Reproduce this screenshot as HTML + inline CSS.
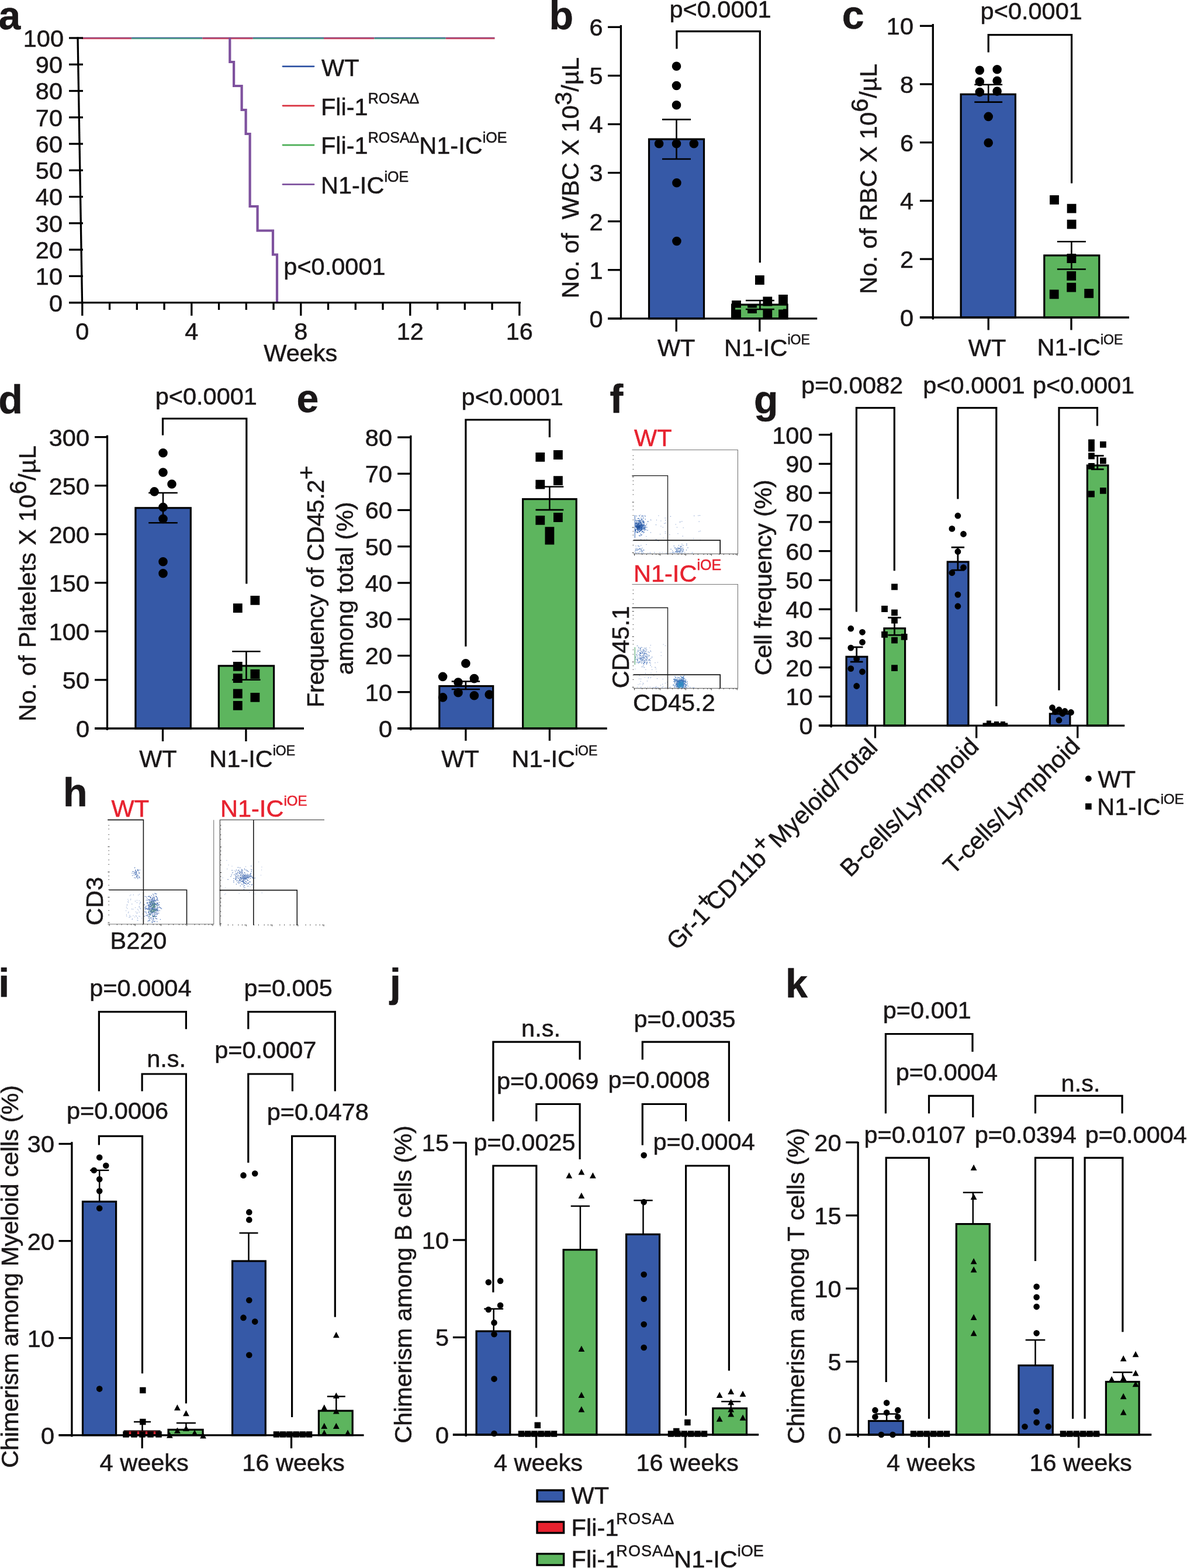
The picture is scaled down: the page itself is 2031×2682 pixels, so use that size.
<!DOCTYPE html>
<html><head><meta charset="utf-8"><title>Figure</title>
<style>html,body{margin:0;padding:0;background:#fff;}svg{display:block;}text{stroke-width:0.55px;}</style>
</head><body>
<svg width="2031" height="2682" viewBox="0 0 2031 2682" font-family='"Liberation Sans", Arial, Helvetica, sans-serif' font-size="41.5" fill="#1a1718"><g stroke="none">
<text x="-2.5" y="50" font-size="68" stroke="#1a1718" font-weight="bold">a</text>
<line x1="140" y1="64.6" x2="225.1" y2="64.6" stroke="#8a3570" stroke-width="1.6"/>
<line x1="140" y1="66.2" x2="225.1" y2="66.2" stroke="#c8344f" stroke-width="1.6"/>
<line x1="225.1" y1="64.6" x2="346.4" y2="64.6" stroke="#2f5c8c" stroke-width="1.6"/>
<line x1="225.1" y1="66.2" x2="346.4" y2="66.2" stroke="#3f9e78" stroke-width="1.6"/>
<line x1="346.4" y1="64.6" x2="432.8" y2="64.6" stroke="#8a3570" stroke-width="1.6"/>
<line x1="346.4" y1="66.2" x2="432.8" y2="66.2" stroke="#c8344f" stroke-width="1.6"/>
<line x1="432.8" y1="64.6" x2="554" y2="64.6" stroke="#2f5c8c" stroke-width="1.6"/>
<line x1="432.8" y1="66.2" x2="554" y2="66.2" stroke="#3f9e78" stroke-width="1.6"/>
<line x1="554" y1="64.6" x2="640.5" y2="64.6" stroke="#8a3570" stroke-width="1.6"/>
<line x1="554" y1="66.2" x2="640.5" y2="66.2" stroke="#c8344f" stroke-width="1.6"/>
<line x1="640.5" y1="64.6" x2="762.7" y2="64.6" stroke="#2f5c8c" stroke-width="1.6"/>
<line x1="640.5" y1="66.2" x2="762.7" y2="66.2" stroke="#3f9e78" stroke-width="1.6"/>
<line x1="762.7" y1="64.6" x2="846.5" y2="64.6" stroke="#8a3570" stroke-width="1.6"/>
<line x1="762.7" y1="66.2" x2="846.5" y2="66.2" stroke="#c8344f" stroke-width="1.6"/>
<path d="M393.3 65V106H400.1V147H413.6V188H420.6V229H427.6V353H440.6V394.5H467V435.5H474V517.6" stroke="#7e519e" stroke-width="4.2" fill="none"/>
<line x1="133" y1="63.5" x2="140.6" y2="519" stroke="#000" stroke-width="3.3"/>
<line x1="118" y1="517.6" x2="142" y2="517.6" stroke="#000" stroke-width="3.3"/>
<text x="107" y="532.5" text-anchor="end" stroke="#1a1718">0</text>
<line x1="118" y1="472.34" x2="142" y2="472.34" stroke="#000" stroke-width="3.3"/>
<text x="107" y="487.24" text-anchor="end" stroke="#1a1718">10</text>
<line x1="118" y1="427.08" x2="142" y2="427.08" stroke="#000" stroke-width="3.3"/>
<text x="107" y="441.98" text-anchor="end" stroke="#1a1718">20</text>
<line x1="118" y1="381.82" x2="142" y2="381.82" stroke="#000" stroke-width="3.3"/>
<text x="107" y="396.72" text-anchor="end" stroke="#1a1718">30</text>
<line x1="118" y1="336.56" x2="142" y2="336.56" stroke="#000" stroke-width="3.3"/>
<text x="107" y="351.46" text-anchor="end" stroke="#1a1718">40</text>
<line x1="118" y1="291.3" x2="142" y2="291.3" stroke="#000" stroke-width="3.3"/>
<text x="107" y="306.2" text-anchor="end" stroke="#1a1718">50</text>
<line x1="118" y1="246.04" x2="142" y2="246.04" stroke="#000" stroke-width="3.3"/>
<text x="107" y="260.94" text-anchor="end" stroke="#1a1718">60</text>
<line x1="118" y1="200.78" x2="142" y2="200.78" stroke="#000" stroke-width="3.3"/>
<text x="107" y="215.68" text-anchor="end" stroke="#1a1718">70</text>
<line x1="118" y1="155.52" x2="142" y2="155.52" stroke="#000" stroke-width="3.3"/>
<text x="107" y="170.42" text-anchor="end" stroke="#1a1718">80</text>
<line x1="118" y1="110.26" x2="142" y2="110.26" stroke="#000" stroke-width="3.3"/>
<text x="107" y="125.16" text-anchor="end" stroke="#1a1718">90</text>
<line x1="118" y1="65" x2="142" y2="65" stroke="#000" stroke-width="3.3"/>
<text x="109" y="79.9" text-anchor="end" stroke="#1a1718">100</text>
<line x1="118" y1="517.6" x2="891" y2="517.6" stroke="#000" stroke-width="3.3"/>
<line x1="140.8" y1="517.6" x2="140.8" y2="540" stroke="#000" stroke-width="3.3"/>
<text x="140.8" y="581" text-anchor="middle" stroke="#1a1718">0</text>
<line x1="187.55" y1="517.6" x2="187.55" y2="530" stroke="#000" stroke-width="3.3"/>
<line x1="234.3" y1="517.6" x2="234.3" y2="530" stroke="#000" stroke-width="3.3"/>
<line x1="281.05" y1="517.6" x2="281.05" y2="530" stroke="#000" stroke-width="3.3"/>
<line x1="327.8" y1="517.6" x2="327.8" y2="540" stroke="#000" stroke-width="3.3"/>
<text x="327.8" y="581" text-anchor="middle" stroke="#1a1718">4</text>
<line x1="374.55" y1="517.6" x2="374.55" y2="530" stroke="#000" stroke-width="3.3"/>
<line x1="421.3" y1="517.6" x2="421.3" y2="530" stroke="#000" stroke-width="3.3"/>
<line x1="468.05" y1="517.6" x2="468.05" y2="530" stroke="#000" stroke-width="3.3"/>
<line x1="514.8" y1="517.6" x2="514.8" y2="540" stroke="#000" stroke-width="3.3"/>
<text x="514.8" y="581" text-anchor="middle" stroke="#1a1718">8</text>
<line x1="561.55" y1="517.6" x2="561.55" y2="530" stroke="#000" stroke-width="3.3"/>
<line x1="608.3" y1="517.6" x2="608.3" y2="530" stroke="#000" stroke-width="3.3"/>
<line x1="655.05" y1="517.6" x2="655.05" y2="530" stroke="#000" stroke-width="3.3"/>
<line x1="701.8" y1="517.6" x2="701.8" y2="540" stroke="#000" stroke-width="3.3"/>
<text x="701.8" y="581" text-anchor="middle" stroke="#1a1718">12</text>
<line x1="748.55" y1="517.6" x2="748.55" y2="530" stroke="#000" stroke-width="3.3"/>
<line x1="795.3" y1="517.6" x2="795.3" y2="530" stroke="#000" stroke-width="3.3"/>
<line x1="842.05" y1="517.6" x2="842.05" y2="530" stroke="#000" stroke-width="3.3"/>
<line x1="888.8" y1="517.6" x2="888.8" y2="540" stroke="#000" stroke-width="3.3"/>
<text x="888.8" y="581" text-anchor="middle" stroke="#1a1718">16</text>
<text x="514.3" y="618" text-anchor="middle" stroke="#1a1718">Weeks</text>
<line x1="484" y1="113.6" x2="537" y2="113.6" stroke="#3356a5" stroke-width="2.8" stroke-linecap="round"/>
<line x1="484" y1="180.8" x2="537" y2="180.8" stroke="#d9303f" stroke-width="2.8" stroke-linecap="round"/>
<line x1="484" y1="248.1" x2="537" y2="248.1" stroke="#4cae56" stroke-width="2.8" stroke-linecap="round"/>
<line x1="484" y1="315.4" x2="537" y2="315.4" stroke="#7e519e" stroke-width="2.8" stroke-linecap="round"/>
<text x="550" y="130" stroke="#1a1718">WT</text>
<text x="549" y="196.5" stroke="#1a1718">Fli-1<tspan dy="-19.5" font-size="25">ROSAΔ</tspan></text>
<text x="549" y="263.2" stroke="#1a1718">Fli-1<tspan dy="-19.5" font-size="25">ROSAΔ</tspan><tspan dy="19.5">N1-IC</tspan><tspan dy="-19.5" font-size="25">iOE</tspan></text>
<text x="549" y="330.5" stroke="#1a1718">N1-IC<tspan dy="-19.5" font-size="25">iOE</tspan></text>
<text x="485.3" y="470.2" stroke="#1a1718">p&lt;0.0001</text>
<text x="939.5" y="50" font-size="68" stroke="#1a1718" font-weight="bold">b</text>
<rect x="1110.5" y="238.1" width="94" height="306.7" fill="#3659a7" stroke="#000" stroke-width="3.2"/>
<rect x="1252.6" y="521.1" width="94.5" height="23.7" fill="#5db55e" stroke="#000" stroke-width="3.2"/>
<line x1="1157.5" y1="204.4" x2="1157.5" y2="272" stroke="#000" stroke-width="2.6"/>
<line x1="1133" y1="204.4" x2="1182" y2="204.4" stroke="#000" stroke-width="2.6"/>
<line x1="1133" y1="272" x2="1182" y2="272" stroke="#000" stroke-width="2.6"/>
<path d="M1149.7 113.3a7.8 7.8 0 1 0 15.6 0a7.8 7.8 0 1 0 -15.6 0zM1149.7 146.5a7.8 7.8 0 1 0 15.6 0a7.8 7.8 0 1 0 -15.6 0zM1149.7 179.8a7.8 7.8 0 1 0 15.6 0a7.8 7.8 0 1 0 -15.6 0zM1119.8 245.8a7.8 7.8 0 1 0 15.6 0a7.8 7.8 0 1 0 -15.6 0zM1149.7 245.8a7.8 7.8 0 1 0 15.6 0a7.8 7.8 0 1 0 -15.6 0zM1179.5 245.8a7.8 7.8 0 1 0 15.6 0a7.8 7.8 0 1 0 -15.6 0zM1150.1 312.8a7.8 7.8 0 1 0 15.6 0a7.8 7.8 0 1 0 -15.6 0zM1150.1 412.5a7.8 7.8 0 1 0 15.6 0a7.8 7.8 0 1 0 -15.6 0z" fill="#000"/>
<path d="M1292 471.1h15.8v15.8h-15.8zM1252.1 514.1h15.8v15.8h-15.8zM1252.1 529.1h15.8v15.8h-15.8zM1279.1 520.1h15.8v15.8h-15.8zM1305.4 507.6h15.8v15.8h-15.8zM1305.4 528.6h15.8v15.8h-15.8zM1332.1 504.1h15.8v15.8h-15.8zM1332.1 528.6h15.8v15.8h-15.8z" fill="#000"/>
<path d="M1258 528H1340" stroke="#5db55e" stroke-width="3" fill="none"/>
<line x1="1300.4" y1="514" x2="1300.4" y2="529" stroke="#000" stroke-width="2.6"/>
<line x1="1275.9" y1="514" x2="1324.9" y2="514" stroke="#000" stroke-width="2.6"/>
<line x1="1275.9" y1="529" x2="1324.9" y2="529" stroke="#000" stroke-width="2.6"/>
<path d="M1157.9 83.6V53.7H1300.3V449.3" stroke="#000" stroke-width="3.2" fill="none"/>
<line x1="1062.4" y1="43" x2="1062.4" y2="546.5" stroke="#000" stroke-width="3.3"/>
<line x1="1040" y1="544.8" x2="1062.4" y2="544.8" stroke="#000" stroke-width="3.3"/>
<text x="1031.5" y="559.7" text-anchor="end" stroke="#1a1718">0</text>
<line x1="1040" y1="461.72" x2="1062.4" y2="461.72" stroke="#000" stroke-width="3.3"/>
<text x="1031.5" y="476.62" text-anchor="end" stroke="#1a1718">1</text>
<line x1="1040" y1="378.64" x2="1062.4" y2="378.64" stroke="#000" stroke-width="3.3"/>
<text x="1031.5" y="393.54" text-anchor="end" stroke="#1a1718">2</text>
<line x1="1040" y1="295.56" x2="1062.4" y2="295.56" stroke="#000" stroke-width="3.3"/>
<text x="1031.5" y="310.46" text-anchor="end" stroke="#1a1718">3</text>
<line x1="1040" y1="212.48" x2="1062.4" y2="212.48" stroke="#000" stroke-width="3.3"/>
<text x="1031.5" y="227.38" text-anchor="end" stroke="#1a1718">4</text>
<line x1="1040" y1="129.4" x2="1062.4" y2="129.4" stroke="#000" stroke-width="3.3"/>
<text x="1031.5" y="144.3" text-anchor="end" stroke="#1a1718">5</text>
<line x1="1040" y1="46.32" x2="1062.4" y2="46.32" stroke="#000" stroke-width="3.3"/>
<text x="1031.5" y="61.22" text-anchor="end" stroke="#1a1718">6</text>
<line x1="1040" y1="544.8" x2="1398.2" y2="544.8" stroke="#000" stroke-width="3.3"/>
<line x1="1157.2" y1="544.8" x2="1157.2" y2="567.2" stroke="#000" stroke-width="3.3"/>
<line x1="1299.8" y1="544.8" x2="1299.8" y2="567.2" stroke="#000" stroke-width="3.3"/>
<text x="1157.2" y="608.5" text-anchor="middle" stroke="#1a1718">WT</text>
<text x="1239" y="608.5" stroke="#1a1718">N1-IC<tspan dy="-19.5" font-size="23">iOE</tspan></text>
<text transform="translate(990.2 304.15) rotate(-90)" text-anchor="middle" stroke="#1a1718" textLength="412.7" lengthAdjust="spacing" xml:space="preserve">No. of  WBC X 10<tspan dy="-12.5" font-size="41.5">3</tspan><tspan dy="12.5">/µL</tspan></text>
<text x="1232.5" y="30" text-anchor="middle" stroke="#1a1718">p&lt;0.0001</text>
<text x="1440.7" y="48.5" font-size="68" stroke="#1a1718" font-weight="bold">c</text>
<rect x="1644.1" y="161.3" width="93.3" height="381.7" fill="#3659a7" stroke="#000" stroke-width="3.2"/>
<rect x="1786.8" y="436.9" width="94" height="106.1" fill="#5db55e" stroke="#000" stroke-width="3.2"/>
<line x1="1691.2" y1="144.8" x2="1691.2" y2="174.6" stroke="#000" stroke-width="2.6"/>
<line x1="1667.3" y1="144.8" x2="1715.1" y2="144.8" stroke="#000" stroke-width="2.6"/>
<line x1="1667.3" y1="174.6" x2="1715.1" y2="174.6" stroke="#000" stroke-width="2.6"/>
<path d="M1668.5 120.3a7.8 7.8 0 1 0 15.6 0a7.8 7.8 0 1 0 -15.6 0zM1698.3 118.8a7.8 7.8 0 1 0 15.6 0a7.8 7.8 0 1 0 -15.6 0zM1668.5 139.7a7.8 7.8 0 1 0 15.6 0a7.8 7.8 0 1 0 -15.6 0zM1698.3 138.2a7.8 7.8 0 1 0 15.6 0a7.8 7.8 0 1 0 -15.6 0zM1668.5 157.6a7.8 7.8 0 1 0 15.6 0a7.8 7.8 0 1 0 -15.6 0zM1698.3 156.1a7.8 7.8 0 1 0 15.6 0a7.8 7.8 0 1 0 -15.6 0zM1683.4 199.4a7.8 7.8 0 1 0 15.6 0a7.8 7.8 0 1 0 -15.6 0zM1683.4 244.2a7.8 7.8 0 1 0 15.6 0a7.8 7.8 0 1 0 -15.6 0z" fill="#000"/>
<path d="M1796.1 333.9h15.8v15.8h-15.8zM1825.7 348.8h15.8v15.8h-15.8zM1825.7 375.7h15.8v15.8h-15.8zM1825.5 434.1h15.8v15.8h-15.8zM1825.3 464h15.8v15.8h-15.8zM1825.3 483.8h15.8v15.8h-15.8zM1795.8 495.5h15.8v15.8h-15.8zM1855.3 494h15.8v15.8h-15.8z" fill="#000"/>
<line x1="1833.4" y1="413.2" x2="1833.4" y2="460.5" stroke="#000" stroke-width="2.6"/>
<line x1="1808.9" y1="413.2" x2="1857.9" y2="413.2" stroke="#000" stroke-width="2.6"/>
<line x1="1808.9" y1="460.5" x2="1857.9" y2="460.5" stroke="#000" stroke-width="2.6"/>
<path d="M1691.2 89.6V59.7H1833.6V313.4" stroke="#000" stroke-width="3.2" fill="none"/>
<line x1="1596.3" y1="41" x2="1596.3" y2="546.5" stroke="#000" stroke-width="3.3"/>
<line x1="1573.9" y1="542.8" x2="1596.3" y2="542.8" stroke="#000" stroke-width="3.3"/>
<text x="1563" y="557.7" text-anchor="end" stroke="#1a1718">0</text>
<line x1="1573.9" y1="443.1" x2="1596.3" y2="443.1" stroke="#000" stroke-width="3.3"/>
<text x="1563" y="458" text-anchor="end" stroke="#1a1718">2</text>
<line x1="1573.9" y1="343.4" x2="1596.3" y2="343.4" stroke="#000" stroke-width="3.3"/>
<text x="1563" y="358.3" text-anchor="end" stroke="#1a1718">4</text>
<line x1="1573.9" y1="243.7" x2="1596.3" y2="243.7" stroke="#000" stroke-width="3.3"/>
<text x="1563" y="258.6" text-anchor="end" stroke="#1a1718">6</text>
<line x1="1573.9" y1="144" x2="1596.3" y2="144" stroke="#000" stroke-width="3.3"/>
<text x="1563" y="158.9" text-anchor="end" stroke="#1a1718">8</text>
<line x1="1573.9" y1="44.3" x2="1596.3" y2="44.3" stroke="#000" stroke-width="3.3"/>
<text x="1563" y="59.2" text-anchor="end" stroke="#1a1718">10</text>
<line x1="1573.9" y1="543" x2="1932" y2="543" stroke="#000" stroke-width="3.3"/>
<line x1="1691.2" y1="543" x2="1691.2" y2="564.5" stroke="#000" stroke-width="3.3"/>
<line x1="1833" y1="543" x2="1833" y2="564.5" stroke="#000" stroke-width="3.3"/>
<text x="1689" y="608.5" text-anchor="middle" stroke="#1a1718">WT</text>
<text x="1774.6" y="608.3" stroke="#1a1718">N1-IC<tspan dy="-19.5" font-size="23">iOE</tspan></text>
<text transform="translate(1500 305.85) rotate(-90)" text-anchor="middle" stroke="#1a1718" textLength="394.1" lengthAdjust="spacing" xml:space="preserve">No. of RBC X 10<tspan dy="-15" font-size="41.5">6</tspan><tspan dy="15">/µL</tspan></text>
<text x="1764.7" y="32.8" text-anchor="middle" stroke="#1a1718">p&lt;0.0001</text>
<text x="-2.7" y="707" font-size="68" stroke="#1a1718" font-weight="bold">d</text>
<rect x="231.9" y="868.8" width="94.4" height="377.2" fill="#3659a7" stroke="#000" stroke-width="3.2"/>
<rect x="374.3" y="1138.9" width="94.3" height="107.1" fill="#5db55e" stroke="#000" stroke-width="3.2"/>
<line x1="279" y1="843" x2="279" y2="894.2" stroke="#000" stroke-width="2.6"/>
<line x1="254.2" y1="843" x2="303.8" y2="843" stroke="#000" stroke-width="2.6"/>
<line x1="254.2" y1="894.2" x2="303.8" y2="894.2" stroke="#000" stroke-width="2.6"/>
<path d="M271.2 774.7a7.8 7.8 0 1 0 15.6 0a7.8 7.8 0 1 0 -15.6 0zM271.2 808a7.8 7.8 0 1 0 15.6 0a7.8 7.8 0 1 0 -15.6 0zM286.2 828a7.8 7.8 0 1 0 15.6 0a7.8 7.8 0 1 0 -15.6 0zM256.3 840.9a7.8 7.8 0 1 0 15.6 0a7.8 7.8 0 1 0 -15.6 0zM271.2 867.6a7.8 7.8 0 1 0 15.6 0a7.8 7.8 0 1 0 -15.6 0zM271.2 887.5a7.8 7.8 0 1 0 15.6 0a7.8 7.8 0 1 0 -15.6 0zM271.2 960.8a7.8 7.8 0 1 0 15.6 0a7.8 7.8 0 1 0 -15.6 0zM271.2 980.8a7.8 7.8 0 1 0 15.6 0a7.8 7.8 0 1 0 -15.6 0z" fill="#000"/>
<path d="M398.9 1032.3h15.8v15.8h-15.8zM428.5 1018.9h15.8v15.8h-15.8zM398.9 1132h15.8v15.8h-15.8zM398.9 1152.2h15.8v15.8h-15.8zM428.5 1145.1h15.8v15.8h-15.8zM398.9 1178.6h15.8v15.8h-15.8zM428.5 1184.9h15.8v15.8h-15.8zM398.9 1199h15.8v15.8h-15.8z" fill="#000"/>
<line x1="421.4" y1="1114.2" x2="421.4" y2="1162.8" stroke="#000" stroke-width="2.6"/>
<line x1="397.2" y1="1114.2" x2="445.6" y2="1114.2" stroke="#000" stroke-width="2.6"/>
<line x1="397.2" y1="1162.8" x2="445.6" y2="1162.8" stroke="#000" stroke-width="2.6"/>
<path d="M278.5 744.4V716H421.8V998.5" stroke="#000" stroke-width="3.2" fill="none"/>
<line x1="183.5" y1="744.4" x2="183.5" y2="1249" stroke="#000" stroke-width="3.3"/>
<line x1="162" y1="1246" x2="183.5" y2="1246" stroke="#000" stroke-width="3.3"/>
<text x="153" y="1260.9" text-anchor="end" stroke="#1a1718">0</text>
<line x1="162" y1="1162.93" x2="183.5" y2="1162.93" stroke="#000" stroke-width="3.3"/>
<text x="153" y="1177.84" text-anchor="end" stroke="#1a1718">50</text>
<line x1="162" y1="1079.87" x2="183.5" y2="1079.87" stroke="#000" stroke-width="3.3"/>
<text x="153" y="1094.77" text-anchor="end" stroke="#1a1718">100</text>
<line x1="162" y1="996.81" x2="183.5" y2="996.81" stroke="#000" stroke-width="3.3"/>
<text x="153" y="1011.71" text-anchor="end" stroke="#1a1718">150</text>
<line x1="162" y1="913.74" x2="183.5" y2="913.74" stroke="#000" stroke-width="3.3"/>
<text x="153" y="928.64" text-anchor="end" stroke="#1a1718">200</text>
<line x1="162" y1="830.67" x2="183.5" y2="830.67" stroke="#000" stroke-width="3.3"/>
<text x="153" y="845.57" text-anchor="end" stroke="#1a1718">250</text>
<line x1="162" y1="747.61" x2="183.5" y2="747.61" stroke="#000" stroke-width="3.3"/>
<text x="153" y="762.51" text-anchor="end" stroke="#1a1718">300</text>
<line x1="162" y1="1246" x2="520" y2="1246" stroke="#000" stroke-width="3.3"/>
<line x1="278.5" y1="1246" x2="278.5" y2="1268" stroke="#000" stroke-width="3.3"/>
<line x1="420.9" y1="1246" x2="420.9" y2="1268" stroke="#000" stroke-width="3.3"/>
<text x="270.4" y="1311.6" text-anchor="middle" stroke="#1a1718">WT</text>
<text x="358.3" y="1311.6" stroke="#1a1718">N1-IC<tspan dy="-19.5" font-size="23">iOE</tspan></text>
<text transform="translate(61.4 998.15) rotate(-90)" text-anchor="middle" stroke="#1a1718" textLength="471.9" lengthAdjust="spacing" xml:space="preserve">No. of Platelets X 10<tspan dy="-16" font-size="41.5">6</tspan><tspan dy="16">/µL</tspan></text>
<text x="352.8" y="692.2" text-anchor="middle" stroke="#1a1718">p&lt;0.0001</text>
<text x="507.5" y="705" font-size="68" stroke="#1a1718" font-weight="bold">e</text>
<rect x="751.8" y="1173.5" width="91.9" height="72.5" fill="#3659a7" stroke="#000" stroke-width="3.2"/>
<rect x="894.6" y="853.7" width="91.6" height="392.3" fill="#5db55e" stroke="#000" stroke-width="3.2"/>
<path d="M789.1 1134.8a7.8 7.8 0 1 0 15.6 0a7.8 7.8 0 1 0 -15.6 0zM749.8 1157.4a7.8 7.8 0 1 0 15.6 0a7.8 7.8 0 1 0 -15.6 0zM803.6 1160.6a7.8 7.8 0 1 0 15.6 0a7.8 7.8 0 1 0 -15.6 0zM776.2 1167.1a7.8 7.8 0 1 0 15.6 0a7.8 7.8 0 1 0 -15.6 0zM749.8 1192.9a7.8 7.8 0 1 0 15.6 0a7.8 7.8 0 1 0 -15.6 0zM776.2 1184.8a7.8 7.8 0 1 0 15.6 0a7.8 7.8 0 1 0 -15.6 0zM803.6 1189.7a7.8 7.8 0 1 0 15.6 0a7.8 7.8 0 1 0 -15.6 0zM829.4 1188a7.8 7.8 0 1 0 15.6 0a7.8 7.8 0 1 0 -15.6 0z" fill="#000"/>
<line x1="796.9" y1="1165.5" x2="796.9" y2="1179" stroke="#000" stroke-width="2.6"/>
<line x1="772.7" y1="1165.5" x2="821.1" y2="1165.5" stroke="#000" stroke-width="2.6"/>
<line x1="772.7" y1="1179" x2="821.1" y2="1179" stroke="#000" stroke-width="2.6"/>
<path d="M916.4 773.9h15.8v15.8h-15.8zM947 770.1h15.8v15.8h-15.8zM916.4 820.7h15.8v15.8h-15.8zM947 814.2h15.8v15.8h-15.8zM916.4 881.9h15.8v15.8h-15.8zM947 877.1h15.8v15.8h-15.8zM932.5 901.3h15.8v15.8h-15.8zM932.5 915.8h15.8v15.8h-15.8z" fill="#000"/>
<line x1="940.4" y1="832.5" x2="940.4" y2="872.1" stroke="#000" stroke-width="2.6"/>
<line x1="916.5" y1="832.5" x2="964.3" y2="832.5" stroke="#000" stroke-width="2.6"/>
<line x1="916.5" y1="872.1" x2="964.3" y2="872.1" stroke="#000" stroke-width="2.6"/>
<path d="M796.9 1105.8V718H940.4V748" stroke="#000" stroke-width="3.2" fill="none"/>
<line x1="702.8" y1="744.8" x2="702.8" y2="1249.3" stroke="#000" stroke-width="3.3"/>
<line x1="680.2" y1="1246" x2="702.8" y2="1246" stroke="#000" stroke-width="3.3"/>
<text x="671" y="1260.9" text-anchor="end" stroke="#1a1718">0</text>
<line x1="680.2" y1="1183.75" x2="702.8" y2="1183.75" stroke="#000" stroke-width="3.3"/>
<text x="671" y="1198.65" text-anchor="end" stroke="#1a1718">10</text>
<line x1="680.2" y1="1121.5" x2="702.8" y2="1121.5" stroke="#000" stroke-width="3.3"/>
<text x="671" y="1136.4" text-anchor="end" stroke="#1a1718">20</text>
<line x1="680.2" y1="1059.25" x2="702.8" y2="1059.25" stroke="#000" stroke-width="3.3"/>
<text x="671" y="1074.15" text-anchor="end" stroke="#1a1718">30</text>
<line x1="680.2" y1="997" x2="702.8" y2="997" stroke="#000" stroke-width="3.3"/>
<text x="671" y="1011.9" text-anchor="end" stroke="#1a1718">40</text>
<line x1="680.2" y1="934.75" x2="702.8" y2="934.75" stroke="#000" stroke-width="3.3"/>
<text x="671" y="949.65" text-anchor="end" stroke="#1a1718">50</text>
<line x1="680.2" y1="872.5" x2="702.8" y2="872.5" stroke="#000" stroke-width="3.3"/>
<text x="671" y="887.4" text-anchor="end" stroke="#1a1718">60</text>
<line x1="680.2" y1="810.25" x2="702.8" y2="810.25" stroke="#000" stroke-width="3.3"/>
<text x="671" y="825.15" text-anchor="end" stroke="#1a1718">70</text>
<line x1="680.2" y1="748" x2="702.8" y2="748" stroke="#000" stroke-width="3.3"/>
<text x="671" y="762.9" text-anchor="end" stroke="#1a1718">80</text>
<line x1="680.2" y1="1246" x2="1038.7" y2="1246" stroke="#000" stroke-width="3.3"/>
<line x1="796.9" y1="1246" x2="796.9" y2="1267" stroke="#000" stroke-width="3.3"/>
<line x1="940.4" y1="1246" x2="940.4" y2="1267" stroke="#000" stroke-width="3.3"/>
<text x="787.5" y="1311.6" text-anchor="middle" stroke="#1a1718">WT</text>
<text x="875.6" y="1311.6" stroke="#1a1718">N1-IC<tspan dy="-19.5" font-size="23">iOE</tspan></text>
<text transform="translate(553.9 1003.3) rotate(-90)" text-anchor="middle" stroke="#1a1718" textLength="414" lengthAdjust="spacing" xml:space="preserve">Frequency of CD45.2<tspan dy="-16" font-size="41.5">+</tspan></text>
<text transform="translate(603.8 1006.35) rotate(-90)" text-anchor="middle" stroke="#1a1718" textLength="295.9" lengthAdjust="spacing" xml:space="preserve">among total (%)</text>
<text x="876.7" y="693.2" text-anchor="middle" stroke="#1a1718">p&lt;0.0001</text>
<text x="1043.5" y="706" font-size="68" stroke="#1a1718" font-weight="bold">f</text>
<text x="1085" y="763.4" fill="#e7222f" stroke="#e7222f">WT</text>
<text x="1084" y="994.6" fill="#e7222f" stroke="#e7222f">N1-IC<tspan dy="-19.5" font-size="25">iOE</tspan></text>
<path d="M1081.4 769.5H1262.4V947.4H1083.7" stroke="#777" stroke-width="1.1" fill="none"/>
<path d="M1081.7 945.4h3M1082.7 932.39h1.4M1082.7 924.78h1.4M1082.7 915.19h1.4M1082.7 908.87h1.4M1081.7 902.17h3M1082.7 889.16h1.4M1082.7 881.55h1.4M1082.7 871.96h1.4M1082.7 865.65h1.4M1081.7 858.95h3M1082.7 845.94h1.4M1082.7 838.33h1.4M1082.7 828.74h1.4M1082.7 822.42h1.4M1081.7 815.73h3M1082.7 802.71h1.4M1082.7 795.1h1.4M1082.7 785.51h1.4M1082.7 779.2h1.4" stroke="#333" stroke-width="1" fill="none"/>
<path d="M1085.5 947.4v3M1098.73 947.4v1.6M1106.47 947.4v1.6M1116.22 947.4v1.6M1122.64 947.4v1.6M1127.44 947.4v1.6M1129.45 947.4v3M1142.68 947.4v1.6M1150.42 947.4v1.6M1160.17 947.4v1.6M1166.59 947.4v1.6M1171.39 947.4v1.6M1173.4 947.4v3M1186.63 947.4v1.6M1194.37 947.4v1.6M1204.12 947.4v1.6M1210.54 947.4v1.6M1215.34 947.4v1.6M1217.35 947.4v3M1230.58 947.4v1.6M1238.32 947.4v1.6M1248.07 947.4v1.6M1254.49 947.4v1.6M1259.29 947.4v1.6M1261.3 947.4v3" stroke="#333" stroke-width="1" fill="none"/>
<path d="M1081.4 999.5H1262.4V1177.4H1083.7" stroke="#777" stroke-width="1.1" fill="none"/>
<path d="M1081.7 1175.4h3M1082.7 1162.39h1.4M1082.7 1154.78h1.4M1082.7 1145.19h1.4M1082.7 1138.87h1.4M1081.7 1132.18h3M1082.7 1119.16h1.4M1082.7 1111.55h1.4M1082.7 1101.96h1.4M1082.7 1095.65h1.4M1081.7 1088.95h3M1082.7 1075.94h1.4M1082.7 1068.33h1.4M1082.7 1058.74h1.4M1082.7 1052.42h1.4M1081.7 1045.72h3M1082.7 1032.71h1.4M1082.7 1025.1h1.4M1082.7 1015.51h1.4M1082.7 1009.2h1.4" stroke="#333" stroke-width="1" fill="none"/>
<path d="M1085.5 1177.4v3M1098.73 1177.4v1.6M1106.47 1177.4v1.6M1116.22 1177.4v1.6M1122.64 1177.4v1.6M1127.44 1177.4v1.6M1129.45 1177.4v3M1142.68 1177.4v1.6M1150.42 1177.4v1.6M1160.17 1177.4v1.6M1166.59 1177.4v1.6M1171.39 1177.4v1.6M1173.4 1177.4v3M1186.63 1177.4v1.6M1194.37 1177.4v1.6M1204.12 1177.4v1.6M1210.54 1177.4v1.6M1215.34 1177.4v1.6M1217.35 1177.4v3M1230.58 1177.4v1.6M1238.32 1177.4v1.6M1248.07 1177.4v1.6M1254.49 1177.4v1.6M1259.29 1177.4v1.6M1261.3 1177.4v3" stroke="#333" stroke-width="1" fill="none"/>
<path d="M1092.72 902.32h1.3v1.3h-1.3zM1092.87 896.95h1.3v1.3h-1.3zM1089.35 897.61h1.3v1.3h-1.3zM1099.56 901.76h1.3v1.3h-1.3zM1099.18 900.62h1.3v1.3h-1.3zM1095.97 900.2h1.3v1.3h-1.3zM1096.53 902.24h1.3v1.3h-1.3zM1089.55 895.96h1.3v1.3h-1.3zM1095.53 898.7h1.3v1.3h-1.3zM1096.6 894.83h1.3v1.3h-1.3zM1095.54 901.56h1.3v1.3h-1.3zM1090.69 910.16h1.3v1.3h-1.3zM1096.78 906.78h1.3v1.3h-1.3zM1090.9 894.19h1.3v1.3h-1.3zM1092.28 898.31h1.3v1.3h-1.3zM1097.16 900.61h1.3v1.3h-1.3zM1091.76 892.78h1.3v1.3h-1.3zM1091.4 906.94h1.3v1.3h-1.3zM1089.96 900.59h1.3v1.3h-1.3zM1096.13 889.32h1.3v1.3h-1.3zM1094.24 907.49h1.3v1.3h-1.3zM1093.47 893.69h1.3v1.3h-1.3zM1096.49 898.6h1.3v1.3h-1.3zM1086.68 904.38h1.3v1.3h-1.3zM1097.35 905.15h1.3v1.3h-1.3zM1101.2 901.35h1.3v1.3h-1.3zM1094.6 890.56h1.3v1.3h-1.3zM1097.08 895.02h1.3v1.3h-1.3zM1091.74 890.78h1.3v1.3h-1.3zM1089.16 895.55h1.3v1.3h-1.3zM1100.44 885.79h1.3v1.3h-1.3zM1086.71 900.56h1.3v1.3h-1.3zM1101.22 902.76h1.3v1.3h-1.3zM1095.79 894.21h1.3v1.3h-1.3zM1088.4 905.35h1.3v1.3h-1.3zM1099.51 900.02h1.3v1.3h-1.3zM1095.23 901.82h1.3v1.3h-1.3zM1101.97 903.02h1.3v1.3h-1.3zM1096.59 902.56h1.3v1.3h-1.3zM1086.16 907.33h1.3v1.3h-1.3zM1098.78 902.44h1.3v1.3h-1.3zM1098.21 887.23h1.3v1.3h-1.3zM1093.08 905.63h1.3v1.3h-1.3zM1087.44 909.47h1.3v1.3h-1.3zM1096.76 898.02h1.3v1.3h-1.3zM1095.62 903.22h1.3v1.3h-1.3zM1094.6 906.45h1.3v1.3h-1.3zM1090.69 896.3h1.3v1.3h-1.3zM1099.21 899.17h1.3v1.3h-1.3zM1089.6 905.15h1.3v1.3h-1.3zM1101.33 896.11h1.3v1.3h-1.3zM1087.1 898.12h1.3v1.3h-1.3zM1093.25 897.06h1.3v1.3h-1.3zM1101.02 892.32h1.3v1.3h-1.3zM1100.3 890.76h1.3v1.3h-1.3zM1090.06 903.1h1.3v1.3h-1.3zM1099.64 904.58h1.3v1.3h-1.3zM1095.73 899.93h1.3v1.3h-1.3zM1094.76 902.74h1.3v1.3h-1.3zM1093.12 900.8h1.3v1.3h-1.3zM1096.86 899.01h1.3v1.3h-1.3zM1097.82 902.68h1.3v1.3h-1.3zM1104.05 901.11h1.3v1.3h-1.3zM1091.86 896.58h1.3v1.3h-1.3zM1093.93 905h1.3v1.3h-1.3zM1092.32 901.51h1.3v1.3h-1.3zM1103.19 882.33h1.3v1.3h-1.3zM1088.38 900.59h1.3v1.3h-1.3zM1095.99 900.55h1.3v1.3h-1.3zM1091.84 903.26h1.3v1.3h-1.3zM1095.41 895.61h1.3v1.3h-1.3zM1106.15 901.31h1.3v1.3h-1.3zM1091.23 898.35h1.3v1.3h-1.3zM1092.87 898.59h1.3v1.3h-1.3zM1099.04 891.4h1.3v1.3h-1.3zM1093.67 905.2h1.3v1.3h-1.3zM1098.28 908.69h1.3v1.3h-1.3zM1092.3 903.05h1.3v1.3h-1.3zM1099.46 881.56h1.3v1.3h-1.3zM1099.44 889.59h1.3v1.3h-1.3zM1097.42 889.3h1.3v1.3h-1.3zM1094.88 906.77h1.3v1.3h-1.3zM1093.25 900.24h1.3v1.3h-1.3zM1097.99 899.92h1.3v1.3h-1.3zM1093.56 908.97h1.3v1.3h-1.3zM1099.24 897.09h1.3v1.3h-1.3zM1107.73 891.55h1.3v1.3h-1.3zM1098.57 897.27h1.3v1.3h-1.3zM1094.66 903.58h1.3v1.3h-1.3zM1095.11 903.15h1.3v1.3h-1.3zM1086.36 889.19h1.3v1.3h-1.3zM1097.07 892.74h1.3v1.3h-1.3zM1088.87 889.44h1.3v1.3h-1.3zM1100.33 903.85h1.3v1.3h-1.3zM1101.37 892.9h1.3v1.3h-1.3zM1094.01 891.59h1.3v1.3h-1.3zM1097.83 909.33h1.3v1.3h-1.3zM1089.55 909.14h1.3v1.3h-1.3zM1098.94 897.84h1.3v1.3h-1.3zM1093.52 895.08h1.3v1.3h-1.3zM1096 901.66h1.3v1.3h-1.3zM1101.49 892.37h1.3v1.3h-1.3zM1099.68 908.67h1.3v1.3h-1.3zM1101.26 897.83h1.3v1.3h-1.3zM1090.28 905.62h1.3v1.3h-1.3zM1094.58 899.81h1.3v1.3h-1.3zM1101.12 897.29h1.3v1.3h-1.3zM1095.59 895.03h1.3v1.3h-1.3zM1093.95 904.41h1.3v1.3h-1.3zM1094.39 907.62h1.3v1.3h-1.3zM1093.69 905.76h1.3v1.3h-1.3zM1101.46 909.46h1.3v1.3h-1.3zM1090.64 904.72h1.3v1.3h-1.3zM1087.84 898.92h1.3v1.3h-1.3zM1093.04 898.81h1.3v1.3h-1.3zM1091.04 900.52h1.3v1.3h-1.3zM1102.96 899.29h1.3v1.3h-1.3zM1096.65 905.5h1.3v1.3h-1.3zM1093.01 890.81h1.3v1.3h-1.3zM1091.22 905.98h1.3v1.3h-1.3zM1099.04 904.15h1.3v1.3h-1.3zM1094.04 904.23h1.3v1.3h-1.3zM1094.83 891.34h1.3v1.3h-1.3zM1086.18 894.85h1.3v1.3h-1.3zM1098.61 895.32h1.3v1.3h-1.3zM1089.49 893.99h1.3v1.3h-1.3zM1086.34 898.24h1.3v1.3h-1.3zM1088.1 901.37h1.3v1.3h-1.3zM1090.79 886.38h1.3v1.3h-1.3zM1097.62 897.21h1.3v1.3h-1.3zM1095.46 896.02h1.3v1.3h-1.3zM1097.9 903.86h1.3v1.3h-1.3zM1097.33 901.12h1.3v1.3h-1.3zM1100.67 903.29h1.3v1.3h-1.3zM1096.26 885.45h1.3v1.3h-1.3zM1098.48 907.51h1.3v1.3h-1.3zM1092.52 895.95h1.3v1.3h-1.3zM1103.7 887.57h1.3v1.3h-1.3zM1096.34 914.75h1.3v1.3h-1.3zM1089.36 903.48h1.3v1.3h-1.3zM1103.43 898.22h1.3v1.3h-1.3zM1096.81 904.87h1.3v1.3h-1.3zM1089.47 898.42h1.3v1.3h-1.3zM1095.46 904.37h1.3v1.3h-1.3zM1093.83 897.73h1.3v1.3h-1.3zM1088.92 896.67h1.3v1.3h-1.3zM1098.46 899.66h1.3v1.3h-1.3zM1089.73 893.53h1.3v1.3h-1.3zM1107.33 906.41h1.3v1.3h-1.3zM1097.19 882.15h1.3v1.3h-1.3zM1097.11 902.12h1.3v1.3h-1.3zM1102.42 901.78h1.3v1.3h-1.3zM1093.66 902.4h1.3v1.3h-1.3zM1095.62 894.44h1.3v1.3h-1.3zM1100.63 910.76h1.3v1.3h-1.3zM1086.99 894.67h1.3v1.3h-1.3zM1095.46 900.19h1.3v1.3h-1.3zM1092.01 892.67h1.3v1.3h-1.3zM1104.6 905.74h1.3v1.3h-1.3zM1088.03 890.26h1.3v1.3h-1.3zM1102.52 905.43h1.3v1.3h-1.3zM1103.1 904.27h1.3v1.3h-1.3zM1089.64 900.69h1.3v1.3h-1.3zM1093.71 902.4h1.3v1.3h-1.3zM1090.36 898.19h1.3v1.3h-1.3zM1096.29 901.45h1.3v1.3h-1.3zM1097.19 900.36h1.3v1.3h-1.3zM1092.38 904.13h1.3v1.3h-1.3zM1094.25 893.63h1.3v1.3h-1.3zM1090.87 899h1.3v1.3h-1.3zM1093.45 900.02h1.3v1.3h-1.3zM1094 900.14h1.3v1.3h-1.3zM1093.33 890.82h1.3v1.3h-1.3zM1096.11 905.85h1.3v1.3h-1.3zM1096.17 897.77h1.3v1.3h-1.3zM1096.23 892.72h1.3v1.3h-1.3zM1089.35 903.81h1.3v1.3h-1.3zM1088.58 881.91h1.3v1.3h-1.3zM1088.8 909.26h1.3v1.3h-1.3zM1092.09 890.1h1.3v1.3h-1.3zM1090.18 902.39h1.3v1.3h-1.3zM1096.48 900.15h1.3v1.3h-1.3zM1101.42 903.59h1.3v1.3h-1.3zM1093.9 902.88h1.3v1.3h-1.3zM1102.27 905.31h1.3v1.3h-1.3zM1099.12 891.96h1.3v1.3h-1.3zM1093.26 903.74h1.3v1.3h-1.3zM1092.52 905.95h1.3v1.3h-1.3zM1096.98 904.9h1.3v1.3h-1.3zM1092.94 915.55h1.3v1.3h-1.3zM1100.2 897.6h1.3v1.3h-1.3zM1094.45 915.87h1.3v1.3h-1.3zM1092.28 904.68h1.3v1.3h-1.3zM1098.9 899.04h1.3v1.3h-1.3zM1088.16 900.22h1.3v1.3h-1.3zM1095.8 906.34h1.3v1.3h-1.3zM1097.91 899.16h1.3v1.3h-1.3zM1098.27 902.51h1.3v1.3h-1.3zM1095.03 899.36h1.3v1.3h-1.3zM1092.78 903.46h1.3v1.3h-1.3zM1088.73 894.91h1.3v1.3h-1.3zM1094.02 889.48h1.3v1.3h-1.3zM1091.82 885.94h1.3v1.3h-1.3zM1090.59 902.69h1.3v1.3h-1.3zM1096.83 898.65h1.3v1.3h-1.3zM1092.84 889.79h1.3v1.3h-1.3zM1103.14 902.35h1.3v1.3h-1.3zM1099.47 893.26h1.3v1.3h-1.3zM1093.07 887.17h1.3v1.3h-1.3zM1097.9 905.08h1.3v1.3h-1.3zM1097.15 887.55h1.3v1.3h-1.3zM1090.85 889.88h1.3v1.3h-1.3zM1094.16 900.62h1.3v1.3h-1.3zM1097.17 903.56h1.3v1.3h-1.3zM1101.51 906.57h1.3v1.3h-1.3zM1087.44 895.71h1.3v1.3h-1.3zM1088.7 892h1.3v1.3h-1.3zM1093.59 899.04h1.3v1.3h-1.3zM1096.45 888.69h1.3v1.3h-1.3zM1087.81 898.85h1.3v1.3h-1.3zM1093 896.98h1.3v1.3h-1.3zM1093.68 894.06h1.3v1.3h-1.3zM1097.51 901.3h1.3v1.3h-1.3zM1093.56 894.63h1.3v1.3h-1.3zM1093.13 881.31h1.3v1.3h-1.3zM1089.09 899.24h1.3v1.3h-1.3zM1086.48 900.3h1.3v1.3h-1.3zM1094.74 890.05h1.3v1.3h-1.3zM1092.75 896.96h1.3v1.3h-1.3zM1096.3 902.98h1.3v1.3h-1.3zM1093.82 893.47h1.3v1.3h-1.3zM1093.28 898.57h1.3v1.3h-1.3zM1097.67 900.91h1.3v1.3h-1.3zM1090.39 890.2h1.3v1.3h-1.3zM1092.13 894.19h1.3v1.3h-1.3zM1088.44 898.25h1.3v1.3h-1.3zM1091.54 899.69h1.3v1.3h-1.3zM1096.62 896.32h1.3v1.3h-1.3zM1105.62 896.91h1.3v1.3h-1.3zM1099.51 899.79h1.3v1.3h-1.3zM1099.58 883.56h1.3v1.3h-1.3zM1090.24 900.61h1.3v1.3h-1.3zM1097.01 914.19h1.3v1.3h-1.3zM1095.61 907.32h1.3v1.3h-1.3zM1097.83 905.16h1.3v1.3h-1.3zM1096.55 897.99h1.3v1.3h-1.3zM1096.55 891.99h1.3v1.3h-1.3zM1099.91 892.39h1.3v1.3h-1.3zM1095.25 912.79h1.3v1.3h-1.3zM1092.88 899.13h1.3v1.3h-1.3zM1099.82 899.17h1.3v1.3h-1.3zM1089.96 900.68h1.3v1.3h-1.3zM1096.91 903.62h1.3v1.3h-1.3zM1090.14 910.39h1.3v1.3h-1.3zM1102.33 899.12h1.3v1.3h-1.3zM1095.34 896.21h1.3v1.3h-1.3zM1101.07 894.42h1.3v1.3h-1.3zM1097.37 895.88h1.3v1.3h-1.3zM1090.53 903.67h1.3v1.3h-1.3zM1100.67 898.93h1.3v1.3h-1.3z" fill="#2f62b0" fill-opacity="0.9"/>
<path d="M1089.97 903.25h1.4v1.4h-1.4zM1091.85 901.24h1.4v1.4h-1.4zM1096.57 904.53h1.4v1.4h-1.4zM1090.44 909.13h1.4v1.4h-1.4zM1092.01 903.14h1.4v1.4h-1.4zM1090.06 899.82h1.4v1.4h-1.4zM1086.75 907.15h1.4v1.4h-1.4zM1096.1 895.14h1.4v1.4h-1.4zM1087.48 893.52h1.4v1.4h-1.4zM1095.53 898.16h1.4v1.4h-1.4zM1091.82 898.75h1.4v1.4h-1.4zM1091.64 895.65h1.4v1.4h-1.4zM1092.07 894.25h1.4v1.4h-1.4zM1091.79 901.23h1.4v1.4h-1.4zM1093.4 899.07h1.4v1.4h-1.4zM1089.29 900.64h1.4v1.4h-1.4zM1090.55 906.26h1.4v1.4h-1.4zM1094.3 899.54h1.4v1.4h-1.4zM1090.59 897.19h1.4v1.4h-1.4zM1089.19 898.59h1.4v1.4h-1.4zM1092.88 902.06h1.4v1.4h-1.4zM1093.71 908.39h1.4v1.4h-1.4zM1089.89 900.05h1.4v1.4h-1.4zM1100.38 892.53h1.4v1.4h-1.4zM1090.44 900.68h1.4v1.4h-1.4zM1092.46 901.63h1.4v1.4h-1.4zM1091.28 901.46h1.4v1.4h-1.4zM1092.16 903.09h1.4v1.4h-1.4zM1086.32 896.46h1.4v1.4h-1.4zM1091.99 895.87h1.4v1.4h-1.4zM1088.87 902.51h1.4v1.4h-1.4zM1090.05 902.54h1.4v1.4h-1.4zM1094.24 901.23h1.4v1.4h-1.4zM1093.52 899.58h1.4v1.4h-1.4zM1087.77 899.88h1.4v1.4h-1.4zM1093.36 897.88h1.4v1.4h-1.4zM1091.7 903h1.4v1.4h-1.4zM1089.37 902.56h1.4v1.4h-1.4zM1097.59 897.78h1.4v1.4h-1.4zM1092.44 899.4h1.4v1.4h-1.4zM1096.62 901.27h1.4v1.4h-1.4zM1094.69 897.24h1.4v1.4h-1.4zM1091.95 899.96h1.4v1.4h-1.4zM1086.67 905.76h1.4v1.4h-1.4zM1094.7 893h1.4v1.4h-1.4zM1094.23 899.48h1.4v1.4h-1.4zM1093.35 901.47h1.4v1.4h-1.4zM1087.5 899.15h1.4v1.4h-1.4zM1096.48 897.7h1.4v1.4h-1.4zM1088.93 894.56h1.4v1.4h-1.4zM1088.34 901.34h1.4v1.4h-1.4zM1097.08 901.72h1.4v1.4h-1.4zM1092.74 908.93h1.4v1.4h-1.4zM1090.44 897.3h1.4v1.4h-1.4zM1093.59 902.19h1.4v1.4h-1.4zM1088.96 895.32h1.4v1.4h-1.4zM1092.87 900.99h1.4v1.4h-1.4zM1088.08 899.19h1.4v1.4h-1.4zM1090.37 901.84h1.4v1.4h-1.4zM1091.65 899.66h1.4v1.4h-1.4z" fill="#1f4f9a"/>
<path d="M1102.28 900.73h1.1v1.1h-1.1zM1137.78 909.01h1.1v1.1h-1.1zM1133.72 901.39h1.1v1.1h-1.1zM1098.68 891.12h1.1v1.1h-1.1zM1137.87 911.71h1.1v1.1h-1.1zM1102.6 880.98h1.1v1.1h-1.1zM1112.91 910.35h1.1v1.1h-1.1zM1108.68 891.58h1.1v1.1h-1.1zM1122.04 921.63h1.1v1.1h-1.1zM1098.25 881.53h1.1v1.1h-1.1zM1104.25 898.93h1.1v1.1h-1.1zM1122.86 888.91h1.1v1.1h-1.1zM1129.04 913.26h1.1v1.1h-1.1zM1113.26 889.23h1.1v1.1h-1.1zM1138.37 894.03h1.1v1.1h-1.1zM1130.28 890.39h1.1v1.1h-1.1zM1097.96 914.22h1.1v1.1h-1.1zM1101.93 922.84h1.1v1.1h-1.1zM1112.77 888.43h1.1v1.1h-1.1zM1098.06 898.77h1.1v1.1h-1.1zM1121.93 922.69h1.1v1.1h-1.1zM1093.9 897.71h1.1v1.1h-1.1zM1097.5 923.84h1.1v1.1h-1.1zM1093.66 882.33h1.1v1.1h-1.1zM1089.25 897.7h1.1v1.1h-1.1zM1134.5 919.76h1.1v1.1h-1.1zM1125.57 924.89h1.1v1.1h-1.1zM1136.31 894.82h1.1v1.1h-1.1zM1096.02 922.11h1.1v1.1h-1.1zM1126.3 881.44h1.1v1.1h-1.1zM1121.88 897.04h1.1v1.1h-1.1zM1106.19 894.93h1.1v1.1h-1.1zM1095.14 880.13h1.1v1.1h-1.1zM1101.11 895.82h1.1v1.1h-1.1zM1137.6 885.57h1.1v1.1h-1.1zM1138.07 889.33h1.1v1.1h-1.1zM1105.26 916.97h1.1v1.1h-1.1zM1130.39 899.46h1.1v1.1h-1.1zM1088.66 901.31h1.1v1.1h-1.1zM1106.13 921.38h1.1v1.1h-1.1z" fill="#4a70b5" fill-opacity="0.7"/>
<path d="M1155.62 896.39h1.1v1.1h-1.1zM1194.33 881.36h1.1v1.1h-1.1zM1167.59 916.53h1.1v1.1h-1.1zM1187.17 881.83h1.1v1.1h-1.1zM1146.92 882.82h1.1v1.1h-1.1zM1195.6 891.57h1.1v1.1h-1.1zM1186.1 920.43h1.1v1.1h-1.1zM1163.65 892.25h1.1v1.1h-1.1zM1197.67 907.76h1.1v1.1h-1.1zM1159.42 912.25h1.1v1.1h-1.1zM1162.41 892.4h1.1v1.1h-1.1zM1145.21 914h1.1v1.1h-1.1zM1195.41 908.53h1.1v1.1h-1.1zM1196.88 881.09h1.1v1.1h-1.1zM1157.86 901.38h1.1v1.1h-1.1zM1197.62 922.93h1.1v1.1h-1.1zM1166.26 891.3h1.1v1.1h-1.1zM1168.65 902.21h1.1v1.1h-1.1z" fill="#4a70b5" fill-opacity="0.7"/>
<path d="M1164.43 938.89h1.2v1.2h-1.2zM1164.19 933.8h1.2v1.2h-1.2zM1165.56 933.82h1.2v1.2h-1.2zM1156.82 937.78h1.2v1.2h-1.2zM1158.59 943.44h1.2v1.2h-1.2zM1161.49 938.41h1.2v1.2h-1.2zM1161.04 941.46h1.2v1.2h-1.2zM1168.44 941.07h1.2v1.2h-1.2zM1174.25 932.06h1.2v1.2h-1.2zM1160.77 941.67h1.2v1.2h-1.2zM1166.79 942.68h1.2v1.2h-1.2zM1159.37 935.78h1.2v1.2h-1.2zM1161.62 944.13h1.2v1.2h-1.2zM1154.46 935.89h1.2v1.2h-1.2zM1160.85 932.25h1.2v1.2h-1.2zM1159.44 938.25h1.2v1.2h-1.2zM1163.7 937.19h1.2v1.2h-1.2zM1155.71 938.42h1.2v1.2h-1.2zM1160.7 937.34h1.2v1.2h-1.2zM1161.07 943h1.2v1.2h-1.2zM1156.3 938.32h1.2v1.2h-1.2zM1156.65 939.87h1.2v1.2h-1.2zM1164.14 934.57h1.2v1.2h-1.2zM1163.78 939.89h1.2v1.2h-1.2zM1150.04 941.17h1.2v1.2h-1.2zM1168.17 932.53h1.2v1.2h-1.2zM1165.84 940.84h1.2v1.2h-1.2zM1163.85 941.77h1.2v1.2h-1.2zM1168.82 939.11h1.2v1.2h-1.2zM1166.24 938.36h1.2v1.2h-1.2zM1165.37 936.74h1.2v1.2h-1.2zM1163.67 939.37h1.2v1.2h-1.2zM1154.13 936.84h1.2v1.2h-1.2zM1162.16 943.76h1.2v1.2h-1.2zM1163.56 942.1h1.2v1.2h-1.2zM1160.75 945.41h1.2v1.2h-1.2zM1158.66 937.8h1.2v1.2h-1.2zM1166.33 940.25h1.2v1.2h-1.2zM1159.33 937.7h1.2v1.2h-1.2zM1159.46 942.49h1.2v1.2h-1.2zM1163.12 935.16h1.2v1.2h-1.2zM1163.56 940.72h1.2v1.2h-1.2zM1155 943.09h1.2v1.2h-1.2zM1159.32 938.66h1.2v1.2h-1.2zM1165.77 945.28h1.2v1.2h-1.2zM1156.87 941.75h1.2v1.2h-1.2zM1158.04 944.78h1.2v1.2h-1.2zM1157.12 943.25h1.2v1.2h-1.2zM1174.31 929.84h1.2v1.2h-1.2zM1158.39 942h1.2v1.2h-1.2zM1160.44 937.33h1.2v1.2h-1.2zM1173.91 940.32h1.2v1.2h-1.2zM1151.13 943.42h1.2v1.2h-1.2zM1150.67 944.6h1.2v1.2h-1.2zM1157.53 940.58h1.2v1.2h-1.2zM1168.57 940.47h1.2v1.2h-1.2zM1152.65 933.22h1.2v1.2h-1.2zM1168.1 942.96h1.2v1.2h-1.2zM1156.11 943.44h1.2v1.2h-1.2zM1163.98 942.59h1.2v1.2h-1.2zM1147.45 938.79h1.2v1.2h-1.2zM1166.4 942.93h1.2v1.2h-1.2zM1166.29 930.17h1.2v1.2h-1.2zM1162.01 941.97h1.2v1.2h-1.2zM1176.31 936.18h1.2v1.2h-1.2zM1159.02 940.14h1.2v1.2h-1.2zM1166.32 938.23h1.2v1.2h-1.2zM1167.88 936.85h1.2v1.2h-1.2zM1162.6 937.89h1.2v1.2h-1.2zM1161.95 937.24h1.2v1.2h-1.2z" fill="#3463ad" fill-opacity="0.85"/>
<path d="M1094.82 938.04h1.1v1.1h-1.1zM1094.21 943.47h1.1v1.1h-1.1zM1087.14 939.61h1.1v1.1h-1.1zM1096.23 941.84h1.1v1.1h-1.1zM1090.99 932.63h1.1v1.1h-1.1zM1100.46 941.15h1.1v1.1h-1.1zM1093.08 939.03h1.1v1.1h-1.1zM1094.58 938.51h1.1v1.1h-1.1zM1086.85 937.41h1.1v1.1h-1.1zM1089.42 937.86h1.1v1.1h-1.1zM1086.05 942.23h1.1v1.1h-1.1zM1086.91 941.23h1.1v1.1h-1.1zM1101.24 940.71h1.1v1.1h-1.1zM1088.62 940.17h1.1v1.1h-1.1zM1093.89 933.93h1.1v1.1h-1.1zM1089.35 940.57h1.1v1.1h-1.1zM1090.18 940.28h1.1v1.1h-1.1zM1097.4 942.68h1.1v1.1h-1.1zM1098.43 942.06h1.1v1.1h-1.1zM1091.27 939.94h1.1v1.1h-1.1zM1091.37 938.9h1.1v1.1h-1.1zM1091.92 933.96h1.1v1.1h-1.1zM1091 939.92h1.1v1.1h-1.1zM1087.16 939.92h1.1v1.1h-1.1zM1096.09 939.42h1.1v1.1h-1.1zM1105.46 930.88h1.1v1.1h-1.1zM1091.76 933.61h1.1v1.1h-1.1zM1096.11 938.94h1.1v1.1h-1.1zM1096.31 932.15h1.1v1.1h-1.1zM1098.11 941.3h1.1v1.1h-1.1zM1093.14 937.94h1.1v1.1h-1.1zM1096.83 938.3h1.1v1.1h-1.1zM1094.34 938.21h1.1v1.1h-1.1zM1094.21 942.64h1.1v1.1h-1.1zM1087.74 939.88h1.1v1.1h-1.1zM1096.7 940.51h1.1v1.1h-1.1zM1087.55 933.28h1.1v1.1h-1.1zM1098.14 945.35h1.1v1.1h-1.1zM1098.53 942.85h1.1v1.1h-1.1zM1089.29 937.5h1.1v1.1h-1.1zM1098.33 936.81h1.1v1.1h-1.1zM1088.88 937.45h1.1v1.1h-1.1zM1094.39 937.38h1.1v1.1h-1.1zM1100.86 939.73h1.1v1.1h-1.1zM1086.48 944.58h1.1v1.1h-1.1z" fill="#3a69b2" fill-opacity="0.8"/>
<path d="M1132.56 944.35h1.2v1.2h-1.2zM1163.59 944.1h1.2v1.2h-1.2zM1171.44 944.51h1.2v1.2h-1.2zM1152.84 945.97h1.2v1.2h-1.2zM1147.34 945.33h1.2v1.2h-1.2zM1119.2 944h1.2v1.2h-1.2zM1090.48 944.3h1.2v1.2h-1.2zM1150.45 944.86h1.2v1.2h-1.2zM1139.81 945.79h1.2v1.2h-1.2zM1100.6 944.45h1.2v1.2h-1.2zM1154.27 944.04h1.2v1.2h-1.2zM1087.27 944.71h1.2v1.2h-1.2zM1097.96 944.71h1.2v1.2h-1.2zM1110.1 945.17h1.2v1.2h-1.2zM1147.68 944.41h1.2v1.2h-1.2zM1151.26 944.95h1.2v1.2h-1.2zM1100.88 945.87h1.2v1.2h-1.2zM1112.09 944.3h1.2v1.2h-1.2zM1096.87 945.28h1.2v1.2h-1.2zM1176.74 945.56h1.2v1.2h-1.2zM1128.4 944.53h1.2v1.2h-1.2zM1088.18 945.29h1.2v1.2h-1.2zM1144.92 944.7h1.2v1.2h-1.2zM1153.5 944.89h1.2v1.2h-1.2zM1183.53 945.47h1.2v1.2h-1.2zM1112.6 945.81h1.2v1.2h-1.2zM1091.53 945.06h1.2v1.2h-1.2zM1128.82 944.48h1.2v1.2h-1.2zM1093.01 945.56h1.2v1.2h-1.2zM1088.27 945.1h1.2v1.2h-1.2zM1183.91 944.28h1.2v1.2h-1.2zM1107.55 945.22h1.2v1.2h-1.2zM1139.22 945.28h1.2v1.2h-1.2zM1170.78 944.35h1.2v1.2h-1.2zM1118.87 944.6h1.2v1.2h-1.2zM1091.99 945.78h1.2v1.2h-1.2zM1167.65 945.43h1.2v1.2h-1.2zM1087.65 945.69h1.2v1.2h-1.2zM1163.75 944.93h1.2v1.2h-1.2zM1163.4 944.9h1.2v1.2h-1.2z" fill="#8fa8d3" fill-opacity="0.8"/>
<line x1="1086.3" y1="881" x2="1086.3" y2="920" stroke="#3b69b5" stroke-width="1"/>
<path d="M1099.46 1125.5h1.2v1.2h-1.2zM1099.2 1124.1h1.2v1.2h-1.2zM1093.46 1132.72h1.2v1.2h-1.2zM1094.75 1108.36h1.2v1.2h-1.2zM1097.78 1116.27h1.2v1.2h-1.2zM1092.44 1119.34h1.2v1.2h-1.2zM1100.89 1113.14h1.2v1.2h-1.2zM1098.11 1132.7h1.2v1.2h-1.2zM1103.44 1120.86h1.2v1.2h-1.2zM1099.83 1121.1h1.2v1.2h-1.2zM1098.69 1127.49h1.2v1.2h-1.2zM1098.86 1115.33h1.2v1.2h-1.2zM1103.23 1117.42h1.2v1.2h-1.2zM1099.96 1138.33h1.2v1.2h-1.2zM1092.2 1113.57h1.2v1.2h-1.2zM1089.83 1104.04h1.2v1.2h-1.2zM1086.79 1124.73h1.2v1.2h-1.2zM1094.85 1107.99h1.2v1.2h-1.2zM1089.36 1126.63h1.2v1.2h-1.2zM1093.96 1119.25h1.2v1.2h-1.2zM1101.15 1132.17h1.2v1.2h-1.2zM1111.62 1129.74h1.2v1.2h-1.2zM1099.93 1123.38h1.2v1.2h-1.2zM1110.71 1132.71h1.2v1.2h-1.2zM1096.98 1125.43h1.2v1.2h-1.2zM1100.87 1122.39h1.2v1.2h-1.2zM1095.75 1112.05h1.2v1.2h-1.2zM1095.53 1110.42h1.2v1.2h-1.2zM1106.95 1126.02h1.2v1.2h-1.2zM1091.16 1132.47h1.2v1.2h-1.2zM1104.8 1107.69h1.2v1.2h-1.2zM1110.97 1128.07h1.2v1.2h-1.2zM1112.42 1112.77h1.2v1.2h-1.2zM1102.45 1125.17h1.2v1.2h-1.2zM1100.31 1123.28h1.2v1.2h-1.2zM1105.85 1110.79h1.2v1.2h-1.2zM1090.93 1111.54h1.2v1.2h-1.2zM1095.38 1117.46h1.2v1.2h-1.2zM1101.39 1124h1.2v1.2h-1.2zM1099.2 1116.93h1.2v1.2h-1.2zM1096.13 1129.14h1.2v1.2h-1.2zM1103.96 1122.76h1.2v1.2h-1.2zM1096.9 1133.65h1.2v1.2h-1.2zM1095.14 1126.86h1.2v1.2h-1.2zM1106.5 1120.01h1.2v1.2h-1.2zM1104.37 1113.63h1.2v1.2h-1.2zM1105.58 1123.5h1.2v1.2h-1.2zM1088.69 1127.02h1.2v1.2h-1.2zM1093.2 1131.61h1.2v1.2h-1.2zM1094.59 1120.76h1.2v1.2h-1.2zM1100.84 1119.51h1.2v1.2h-1.2zM1100.69 1117.85h1.2v1.2h-1.2zM1103.37 1122.04h1.2v1.2h-1.2zM1106.55 1122.24h1.2v1.2h-1.2zM1087.41 1122.72h1.2v1.2h-1.2zM1102.04 1130.03h1.2v1.2h-1.2zM1091.96 1133.6h1.2v1.2h-1.2zM1097.96 1139.96h1.2v1.2h-1.2zM1098.05 1127.1h1.2v1.2h-1.2zM1096.62 1113.63h1.2v1.2h-1.2zM1106.13 1128.8h1.2v1.2h-1.2zM1109 1128.43h1.2v1.2h-1.2zM1095.27 1109.53h1.2v1.2h-1.2zM1094.77 1116.94h1.2v1.2h-1.2zM1093.7 1126.37h1.2v1.2h-1.2zM1101.13 1119.98h1.2v1.2h-1.2zM1100.12 1120.91h1.2v1.2h-1.2zM1100.38 1127.64h1.2v1.2h-1.2zM1105.24 1116.86h1.2v1.2h-1.2zM1089.21 1132.71h1.2v1.2h-1.2zM1099.74 1130.29h1.2v1.2h-1.2zM1088.32 1119.53h1.2v1.2h-1.2zM1099.18 1111.19h1.2v1.2h-1.2zM1095.65 1127.43h1.2v1.2h-1.2zM1106.01 1133.96h1.2v1.2h-1.2zM1093.39 1111.49h1.2v1.2h-1.2zM1102.38 1129.05h1.2v1.2h-1.2zM1100.25 1112.24h1.2v1.2h-1.2zM1104.08 1127.94h1.2v1.2h-1.2zM1102.6 1118.35h1.2v1.2h-1.2zM1100.98 1127.93h1.2v1.2h-1.2zM1095.37 1108.17h1.2v1.2h-1.2zM1101.14 1125.61h1.2v1.2h-1.2zM1099.09 1128.67h1.2v1.2h-1.2zM1095.19 1121.38h1.2v1.2h-1.2zM1097.02 1126.29h1.2v1.2h-1.2zM1109.37 1120.12h1.2v1.2h-1.2zM1112.36 1133.47h1.2v1.2h-1.2zM1104.14 1126.4h1.2v1.2h-1.2zM1110.51 1120.65h1.2v1.2h-1.2zM1098.27 1114.03h1.2v1.2h-1.2zM1102.07 1132.09h1.2v1.2h-1.2zM1102.46 1125.17h1.2v1.2h-1.2zM1097.7 1123.27h1.2v1.2h-1.2zM1089.74 1129.87h1.2v1.2h-1.2zM1096.34 1113.72h1.2v1.2h-1.2zM1094.12 1115.82h1.2v1.2h-1.2zM1104.56 1129.94h1.2v1.2h-1.2zM1090.17 1128.95h1.2v1.2h-1.2zM1104.77 1117.65h1.2v1.2h-1.2zM1089.34 1116.41h1.2v1.2h-1.2zM1094.88 1124.57h1.2v1.2h-1.2zM1096.68 1106.79h1.2v1.2h-1.2zM1100.52 1110.49h1.2v1.2h-1.2zM1104.89 1112.95h1.2v1.2h-1.2zM1094.5 1115.59h1.2v1.2h-1.2zM1095.47 1131.74h1.2v1.2h-1.2zM1104.54 1126.51h1.2v1.2h-1.2zM1101.08 1110.39h1.2v1.2h-1.2zM1095.62 1117.86h1.2v1.2h-1.2zM1092.65 1125.82h1.2v1.2h-1.2zM1094.18 1116.68h1.2v1.2h-1.2zM1092.21 1106.57h1.2v1.2h-1.2zM1102.87 1131.98h1.2v1.2h-1.2zM1100.14 1114.68h1.2v1.2h-1.2zM1106.91 1124.23h1.2v1.2h-1.2zM1105.03 1133.09h1.2v1.2h-1.2zM1106.32 1118.69h1.2v1.2h-1.2zM1105.84 1127.82h1.2v1.2h-1.2zM1089.01 1118.96h1.2v1.2h-1.2zM1089.75 1121.18h1.2v1.2h-1.2zM1102.76 1113.99h1.2v1.2h-1.2zM1101.45 1133.03h1.2v1.2h-1.2zM1090.4 1129.95h1.2v1.2h-1.2zM1112.48 1137.05h1.2v1.2h-1.2zM1097.63 1124.02h1.2v1.2h-1.2zM1098 1129.49h1.2v1.2h-1.2zM1105.75 1122.65h1.2v1.2h-1.2zM1090.17 1127.56h1.2v1.2h-1.2zM1095.95 1126.72h1.2v1.2h-1.2zM1100.71 1134.18h1.2v1.2h-1.2zM1106.39 1118.62h1.2v1.2h-1.2zM1101.27 1135.23h1.2v1.2h-1.2zM1095.51 1125.25h1.2v1.2h-1.2zM1106.74 1131.43h1.2v1.2h-1.2zM1102.37 1112.1h1.2v1.2h-1.2zM1090.8 1123.86h1.2v1.2h-1.2zM1101.52 1141.11h1.2v1.2h-1.2zM1093.4 1130.53h1.2v1.2h-1.2zM1104.01 1109.46h1.2v1.2h-1.2zM1093.68 1123.25h1.2v1.2h-1.2zM1095.79 1120.84h1.2v1.2h-1.2zM1102.06 1115.93h1.2v1.2h-1.2zM1102.03 1117.23h1.2v1.2h-1.2zM1095.46 1126.03h1.2v1.2h-1.2zM1095.27 1124.15h1.2v1.2h-1.2zM1109.4 1122.2h1.2v1.2h-1.2zM1098.05 1127.51h1.2v1.2h-1.2zM1096.62 1130.12h1.2v1.2h-1.2zM1090.66 1126.64h1.2v1.2h-1.2zM1095.67 1116.01h1.2v1.2h-1.2zM1110.5 1115.62h1.2v1.2h-1.2zM1110.42 1126.94h1.2v1.2h-1.2zM1108.44 1114.67h1.2v1.2h-1.2zM1106.79 1132.93h1.2v1.2h-1.2zM1098.24 1121.03h1.2v1.2h-1.2zM1114.96 1123.33h1.2v1.2h-1.2zM1096.25 1117.28h1.2v1.2h-1.2zM1101.9 1124.48h1.2v1.2h-1.2zM1100.15 1134.91h1.2v1.2h-1.2zM1096.87 1125.55h1.2v1.2h-1.2zM1108.48 1114.47h1.2v1.2h-1.2zM1105.75 1135.74h1.2v1.2h-1.2zM1090.19 1113.77h1.2v1.2h-1.2zM1092.25 1108.15h1.2v1.2h-1.2zM1101.94 1108.08h1.2v1.2h-1.2zM1102.24 1132.9h1.2v1.2h-1.2zM1088.5 1119.63h1.2v1.2h-1.2zM1086.53 1127.84h1.2v1.2h-1.2zM1094.21 1120.01h1.2v1.2h-1.2z" fill="#2f62b0" fill-opacity="0.8"/>
<path d="M1098.65 1107.25h1.1v1.1h-1.1zM1112.63 1103.04h1.1v1.1h-1.1zM1111.22 1107.51h1.1v1.1h-1.1zM1112.53 1125.91h1.1v1.1h-1.1zM1115.14 1144.87h1.1v1.1h-1.1zM1086.36 1143.72h1.1v1.1h-1.1zM1111.27 1129.25h1.1v1.1h-1.1zM1121.93 1143.71h1.1v1.1h-1.1zM1106.25 1121.78h1.1v1.1h-1.1zM1137.87 1103.92h1.1v1.1h-1.1zM1120.4 1133.08h1.1v1.1h-1.1zM1087.54 1131.7h1.1v1.1h-1.1zM1122.86 1148.44h1.1v1.1h-1.1zM1103.84 1151.05h1.1v1.1h-1.1zM1113.57 1125.2h1.1v1.1h-1.1zM1134.47 1101.76h1.1v1.1h-1.1zM1124.78 1132.51h1.1v1.1h-1.1zM1104.28 1144.81h1.1v1.1h-1.1zM1105.77 1124.68h1.1v1.1h-1.1zM1114.38 1140.07h1.1v1.1h-1.1zM1097.38 1122.63h1.1v1.1h-1.1zM1108.81 1128.81h1.1v1.1h-1.1zM1130.64 1115.23h1.1v1.1h-1.1zM1130.7 1120.99h1.1v1.1h-1.1zM1113.2 1114.13h1.1v1.1h-1.1zM1113.35 1150.7h1.1v1.1h-1.1zM1121.35 1141.18h1.1v1.1h-1.1zM1103.87 1116.49h1.1v1.1h-1.1zM1102.16 1130.5h1.1v1.1h-1.1zM1120.28 1140.78h1.1v1.1h-1.1z" fill="#4a70b5" fill-opacity="0.6"/>
<path d="M1171.57 1169.99h1.3v1.3h-1.3zM1168.41 1163.87h1.3v1.3h-1.3zM1167.68 1169.3h1.3v1.3h-1.3zM1166.87 1168.13h1.3v1.3h-1.3zM1169.77 1164.75h1.3v1.3h-1.3zM1158.49 1160.61h1.3v1.3h-1.3zM1169.54 1164.31h1.3v1.3h-1.3zM1158.08 1163.3h1.3v1.3h-1.3zM1161.19 1161.64h1.3v1.3h-1.3zM1161.99 1164.86h1.3v1.3h-1.3zM1160.63 1163.2h1.3v1.3h-1.3zM1163.69 1165.7h1.3v1.3h-1.3zM1164.1 1169.25h1.3v1.3h-1.3zM1165.27 1157.05h1.3v1.3h-1.3zM1160.71 1164.02h1.3v1.3h-1.3zM1167.53 1160.11h1.3v1.3h-1.3zM1159.78 1166.53h1.3v1.3h-1.3zM1161.75 1172.96h1.3v1.3h-1.3zM1161.2 1172.82h1.3v1.3h-1.3zM1155.88 1158.94h1.3v1.3h-1.3zM1169.84 1170.18h1.3v1.3h-1.3zM1166.04 1168.62h1.3v1.3h-1.3zM1166.02 1161.92h1.3v1.3h-1.3zM1168.43 1165.34h1.3v1.3h-1.3zM1168.63 1168.44h1.3v1.3h-1.3zM1153.24 1161.56h1.3v1.3h-1.3zM1169.36 1167.32h1.3v1.3h-1.3zM1161.44 1169.21h1.3v1.3h-1.3zM1161.29 1165.28h1.3v1.3h-1.3zM1164.03 1168.72h1.3v1.3h-1.3zM1171.39 1168.23h1.3v1.3h-1.3zM1172.43 1173.31h1.3v1.3h-1.3zM1164.18 1168.69h1.3v1.3h-1.3zM1162.76 1164.34h1.3v1.3h-1.3zM1163.15 1164.8h1.3v1.3h-1.3zM1172.03 1170.67h1.3v1.3h-1.3zM1161.18 1158.42h1.3v1.3h-1.3zM1163.22 1165.92h1.3v1.3h-1.3zM1157.85 1162.32h1.3v1.3h-1.3zM1151.8 1170.84h1.3v1.3h-1.3zM1163.34 1167.26h1.3v1.3h-1.3zM1171.01 1168.67h1.3v1.3h-1.3zM1164.37 1166.14h1.3v1.3h-1.3zM1160.35 1175.5h1.3v1.3h-1.3zM1161.68 1168.15h1.3v1.3h-1.3zM1158.92 1172.84h1.3v1.3h-1.3zM1156.26 1170.82h1.3v1.3h-1.3zM1169.2 1175.06h1.3v1.3h-1.3zM1158.61 1173.45h1.3v1.3h-1.3zM1159.79 1164.21h1.3v1.3h-1.3zM1156.62 1173.78h1.3v1.3h-1.3zM1172.07 1165.03h1.3v1.3h-1.3zM1159.55 1166.31h1.3v1.3h-1.3zM1176.54 1173.02h1.3v1.3h-1.3zM1160.68 1159.03h1.3v1.3h-1.3zM1160 1173.94h1.3v1.3h-1.3zM1173.21 1166.67h1.3v1.3h-1.3zM1159.9 1165.45h1.3v1.3h-1.3zM1153.69 1172.54h1.3v1.3h-1.3zM1157.85 1173.32h1.3v1.3h-1.3zM1154.62 1161.65h1.3v1.3h-1.3zM1165 1164.18h1.3v1.3h-1.3zM1167.56 1168.04h1.3v1.3h-1.3zM1157.39 1171.11h1.3v1.3h-1.3zM1167.88 1158.43h1.3v1.3h-1.3zM1173 1170.49h1.3v1.3h-1.3zM1167.45 1158.7h1.3v1.3h-1.3zM1159.76 1166.25h1.3v1.3h-1.3zM1169.1 1160.7h1.3v1.3h-1.3zM1158.9 1157.85h1.3v1.3h-1.3zM1162.25 1169.73h1.3v1.3h-1.3zM1154.73 1165.04h1.3v1.3h-1.3zM1166.15 1175.93h1.3v1.3h-1.3zM1166.95 1166.48h1.3v1.3h-1.3zM1157.37 1163.32h1.3v1.3h-1.3zM1160.05 1168.74h1.3v1.3h-1.3zM1164.99 1162.64h1.3v1.3h-1.3zM1171.53 1172.75h1.3v1.3h-1.3zM1164.03 1164.39h1.3v1.3h-1.3zM1153.77 1162.89h1.3v1.3h-1.3zM1168.24 1163.99h1.3v1.3h-1.3zM1156.64 1168.98h1.3v1.3h-1.3zM1164.77 1171.03h1.3v1.3h-1.3zM1166.91 1175.05h1.3v1.3h-1.3zM1159.14 1172.89h1.3v1.3h-1.3zM1158.37 1171.47h1.3v1.3h-1.3zM1164.43 1169.22h1.3v1.3h-1.3zM1168.53 1167.91h1.3v1.3h-1.3zM1169.28 1172.38h1.3v1.3h-1.3zM1164.2 1165.17h1.3v1.3h-1.3zM1159.58 1165.36h1.3v1.3h-1.3zM1162.45 1167.88h1.3v1.3h-1.3zM1167.5 1163.7h1.3v1.3h-1.3zM1159.81 1166.4h1.3v1.3h-1.3zM1164.5 1162.82h1.3v1.3h-1.3zM1171.88 1165.18h1.3v1.3h-1.3zM1169.11 1156.32h1.3v1.3h-1.3zM1163.46 1169.39h1.3v1.3h-1.3zM1164.5 1171.01h1.3v1.3h-1.3zM1164.96 1168.81h1.3v1.3h-1.3zM1153.66 1164.43h1.3v1.3h-1.3zM1151.32 1171.14h1.3v1.3h-1.3zM1165.1 1167.02h1.3v1.3h-1.3zM1159.23 1165.09h1.3v1.3h-1.3zM1163.2 1174.44h1.3v1.3h-1.3zM1155.24 1158.32h1.3v1.3h-1.3zM1160.99 1163.63h1.3v1.3h-1.3zM1160.59 1168.94h1.3v1.3h-1.3zM1163.76 1169.38h1.3v1.3h-1.3zM1163.32 1172.65h1.3v1.3h-1.3zM1172.73 1161.78h1.3v1.3h-1.3zM1164.34 1166.68h1.3v1.3h-1.3zM1165.35 1160.34h1.3v1.3h-1.3zM1154.36 1156.42h1.3v1.3h-1.3zM1166.23 1168.96h1.3v1.3h-1.3zM1163.88 1156.17h1.3v1.3h-1.3zM1161.56 1164.22h1.3v1.3h-1.3zM1156.15 1163.42h1.3v1.3h-1.3zM1167.13 1170.72h1.3v1.3h-1.3zM1163.38 1170.57h1.3v1.3h-1.3zM1160.36 1168.36h1.3v1.3h-1.3zM1163.71 1170.77h1.3v1.3h-1.3zM1163.14 1167.28h1.3v1.3h-1.3zM1162.8 1164.78h1.3v1.3h-1.3zM1175.11 1170.57h1.3v1.3h-1.3zM1170.8 1160.22h1.3v1.3h-1.3zM1167.12 1172.19h1.3v1.3h-1.3zM1173.3 1174.58h1.3v1.3h-1.3zM1167.51 1162.11h1.3v1.3h-1.3zM1158.97 1169.34h1.3v1.3h-1.3zM1166.13 1162.89h1.3v1.3h-1.3zM1161.5 1166h1.3v1.3h-1.3zM1163.81 1169.68h1.3v1.3h-1.3zM1162.01 1161.82h1.3v1.3h-1.3zM1169.96 1175.98h1.3v1.3h-1.3zM1162.95 1173.12h1.3v1.3h-1.3zM1165.81 1171.3h1.3v1.3h-1.3zM1166 1164.18h1.3v1.3h-1.3zM1166.48 1173.05h1.3v1.3h-1.3zM1173.84 1171.71h1.3v1.3h-1.3zM1161.74 1165h1.3v1.3h-1.3zM1159.27 1168.58h1.3v1.3h-1.3zM1163.33 1171.35h1.3v1.3h-1.3zM1175.34 1167.86h1.3v1.3h-1.3zM1167.02 1170.38h1.3v1.3h-1.3zM1164.92 1166.96h1.3v1.3h-1.3zM1162.86 1163.88h1.3v1.3h-1.3zM1164.43 1167.88h1.3v1.3h-1.3zM1165.17 1163.72h1.3v1.3h-1.3zM1163.71 1168.24h1.3v1.3h-1.3zM1166.64 1162.68h1.3v1.3h-1.3zM1165.68 1172.92h1.3v1.3h-1.3zM1166.61 1166.16h1.3v1.3h-1.3zM1160.95 1166.82h1.3v1.3h-1.3zM1167.29 1175.76h1.3v1.3h-1.3zM1162.68 1164.79h1.3v1.3h-1.3zM1165.45 1169.02h1.3v1.3h-1.3zM1158.78 1164.31h1.3v1.3h-1.3zM1162.97 1171.36h1.3v1.3h-1.3zM1157.3 1162.91h1.3v1.3h-1.3zM1166.1 1161.88h1.3v1.3h-1.3zM1164.07 1169.76h1.3v1.3h-1.3zM1162.92 1162.91h1.3v1.3h-1.3zM1163.19 1166.34h1.3v1.3h-1.3zM1165.25 1163.81h1.3v1.3h-1.3zM1169.18 1159.62h1.3v1.3h-1.3zM1162.58 1168.04h1.3v1.3h-1.3zM1168.5 1164.96h1.3v1.3h-1.3zM1166.34 1165.17h1.3v1.3h-1.3zM1161.41 1170.21h1.3v1.3h-1.3zM1158.68 1172.87h1.3v1.3h-1.3zM1169.8 1168.18h1.3v1.3h-1.3zM1157.6 1170.01h1.3v1.3h-1.3zM1169.48 1173.45h1.3v1.3h-1.3zM1167.73 1158.85h1.3v1.3h-1.3zM1159.96 1175.11h1.3v1.3h-1.3zM1157.12 1173.66h1.3v1.3h-1.3zM1173.29 1171.81h1.3v1.3h-1.3zM1169.33 1166.34h1.3v1.3h-1.3zM1157.13 1167.49h1.3v1.3h-1.3zM1162.47 1167.76h1.3v1.3h-1.3zM1167.12 1167.28h1.3v1.3h-1.3zM1164.5 1170.12h1.3v1.3h-1.3zM1165.8 1168.42h1.3v1.3h-1.3zM1162.42 1164.87h1.3v1.3h-1.3zM1170.49 1168.75h1.3v1.3h-1.3zM1157.89 1165.19h1.3v1.3h-1.3zM1162.79 1165.77h1.3v1.3h-1.3zM1169.14 1162.19h1.3v1.3h-1.3zM1166.06 1168.72h1.3v1.3h-1.3zM1157.38 1168.24h1.3v1.3h-1.3zM1163.01 1170.51h1.3v1.3h-1.3zM1161.16 1169.52h1.3v1.3h-1.3zM1154.84 1162.58h1.3v1.3h-1.3zM1167.58 1173.21h1.3v1.3h-1.3zM1163.43 1165h1.3v1.3h-1.3zM1169.13 1157.54h1.3v1.3h-1.3zM1159.34 1171.36h1.3v1.3h-1.3zM1166.89 1162.84h1.3v1.3h-1.3zM1153.69 1175.26h1.3v1.3h-1.3zM1164.3 1163.52h1.3v1.3h-1.3zM1163.78 1172.51h1.3v1.3h-1.3zM1167.35 1157.59h1.3v1.3h-1.3zM1167.51 1159.1h1.3v1.3h-1.3zM1169.42 1169.99h1.3v1.3h-1.3zM1175.21 1164.95h1.3v1.3h-1.3zM1163.52 1173.24h1.3v1.3h-1.3zM1160.17 1164.48h1.3v1.3h-1.3zM1161.57 1167.64h1.3v1.3h-1.3zM1157.87 1170.42h1.3v1.3h-1.3zM1166.33 1168.36h1.3v1.3h-1.3zM1172.34 1166.36h1.3v1.3h-1.3zM1170.29 1165.27h1.3v1.3h-1.3zM1167.43 1158.33h1.3v1.3h-1.3zM1164.53 1167.12h1.3v1.3h-1.3zM1160.93 1164.95h1.3v1.3h-1.3zM1161.69 1164.4h1.3v1.3h-1.3zM1152.1 1165.02h1.3v1.3h-1.3zM1160.64 1165.38h1.3v1.3h-1.3zM1158 1167.32h1.3v1.3h-1.3zM1167.58 1166.75h1.3v1.3h-1.3zM1160.94 1174.79h1.3v1.3h-1.3zM1168.58 1172.61h1.3v1.3h-1.3zM1169.51 1166.36h1.3v1.3h-1.3zM1162.83 1173.57h1.3v1.3h-1.3zM1160.62 1167.4h1.3v1.3h-1.3zM1165.46 1169.86h1.3v1.3h-1.3zM1162.06 1172.92h1.3v1.3h-1.3zM1162.57 1171.63h1.3v1.3h-1.3zM1169.07 1171.3h1.3v1.3h-1.3zM1167.31 1162.2h1.3v1.3h-1.3zM1156.68 1164.91h1.3v1.3h-1.3zM1165.97 1175.5h1.3v1.3h-1.3zM1157.14 1169.53h1.3v1.3h-1.3zM1159.06 1164.34h1.3v1.3h-1.3zM1162.06 1171.46h1.3v1.3h-1.3zM1164.61 1173.9h1.3v1.3h-1.3zM1158.37 1172.45h1.3v1.3h-1.3zM1168.34 1168.35h1.3v1.3h-1.3zM1165.98 1165.18h1.3v1.3h-1.3zM1157.83 1165.97h1.3v1.3h-1.3zM1164.55 1169.56h1.3v1.3h-1.3zM1167.37 1164.1h1.3v1.3h-1.3zM1168.27 1169.88h1.3v1.3h-1.3zM1155.62 1171.01h1.3v1.3h-1.3zM1166.37 1170.26h1.3v1.3h-1.3zM1171.74 1165.93h1.3v1.3h-1.3zM1166.16 1171.74h1.3v1.3h-1.3zM1158.82 1174h1.3v1.3h-1.3zM1155.96 1161.5h1.3v1.3h-1.3zM1166.22 1162.56h1.3v1.3h-1.3zM1162.9 1159.78h1.3v1.3h-1.3zM1163.86 1162.33h1.3v1.3h-1.3zM1165.28 1160.34h1.3v1.3h-1.3zM1165.83 1166.67h1.3v1.3h-1.3zM1163.83 1167.66h1.3v1.3h-1.3zM1164.18 1161.39h1.3v1.3h-1.3zM1158.63 1165.73h1.3v1.3h-1.3zM1165.72 1158.07h1.3v1.3h-1.3zM1159.53 1164.95h1.3v1.3h-1.3zM1158 1169.63h1.3v1.3h-1.3zM1162.77 1163.9h1.3v1.3h-1.3zM1158.38 1172.04h1.3v1.3h-1.3zM1160.07 1170.93h1.3v1.3h-1.3zM1165.84 1158.53h1.3v1.3h-1.3zM1157.87 1168.02h1.3v1.3h-1.3zM1165.28 1171.9h1.3v1.3h-1.3zM1167.67 1173.17h1.3v1.3h-1.3zM1161.56 1166.95h1.3v1.3h-1.3zM1167.53 1165.87h1.3v1.3h-1.3zM1168.99 1160.05h1.3v1.3h-1.3zM1166.9 1167.13h1.3v1.3h-1.3zM1153.27 1172.9h1.3v1.3h-1.3zM1165.12 1168.1h1.3v1.3h-1.3zM1157.9 1165.67h1.3v1.3h-1.3zM1171.36 1163.86h1.3v1.3h-1.3zM1157.26 1167.34h1.3v1.3h-1.3zM1161.46 1163.44h1.3v1.3h-1.3zM1159.12 1173.24h1.3v1.3h-1.3zM1160.67 1162.54h1.3v1.3h-1.3zM1167.59 1170.82h1.3v1.3h-1.3zM1158.08 1171.74h1.3v1.3h-1.3zM1153.93 1163.38h1.3v1.3h-1.3zM1169.36 1166.72h1.3v1.3h-1.3zM1156.73 1170.57h1.3v1.3h-1.3zM1168.27 1167.89h1.3v1.3h-1.3zM1154.1 1166.27h1.3v1.3h-1.3zM1165.67 1171.84h1.3v1.3h-1.3zM1173.14 1166.74h1.3v1.3h-1.3zM1160.99 1167.81h1.3v1.3h-1.3zM1169.77 1163.29h1.3v1.3h-1.3zM1170.29 1154.26h1.3v1.3h-1.3zM1167.65 1164.62h1.3v1.3h-1.3zM1165.89 1171.44h1.3v1.3h-1.3zM1157.35 1167.57h1.3v1.3h-1.3zM1164.75 1170.94h1.3v1.3h-1.3zM1158.66 1163.04h1.3v1.3h-1.3zM1162.5 1166.89h1.3v1.3h-1.3zM1155.73 1172.65h1.3v1.3h-1.3zM1160.72 1175.18h1.3v1.3h-1.3zM1167.93 1168.1h1.3v1.3h-1.3zM1167.28 1162.44h1.3v1.3h-1.3zM1161.81 1165.12h1.3v1.3h-1.3zM1156.9 1168.09h1.3v1.3h-1.3zM1162.75 1175.18h1.3v1.3h-1.3zM1158.72 1165.68h1.3v1.3h-1.3zM1165.69 1170.02h1.3v1.3h-1.3zM1163.65 1165.63h1.3v1.3h-1.3zM1166.07 1169.8h1.3v1.3h-1.3zM1153.92 1166.69h1.3v1.3h-1.3zM1156.35 1162.09h1.3v1.3h-1.3zM1164.26 1168.3h1.3v1.3h-1.3zM1164.09 1163.62h1.3v1.3h-1.3zM1162.45 1163.44h1.3v1.3h-1.3zM1165.49 1171.44h1.3v1.3h-1.3zM1172.63 1174.33h1.3v1.3h-1.3zM1159.31 1165.71h1.3v1.3h-1.3zM1158.62 1169.53h1.3v1.3h-1.3zM1173.8 1171.54h1.3v1.3h-1.3zM1152.06 1161.71h1.3v1.3h-1.3zM1156.78 1170.58h1.3v1.3h-1.3zM1163.51 1169.5h1.3v1.3h-1.3zM1172.76 1163.86h1.3v1.3h-1.3zM1165.28 1164.11h1.3v1.3h-1.3zM1152.95 1160.38h1.3v1.3h-1.3zM1163.73 1172.96h1.3v1.3h-1.3zM1162.78 1164.53h1.3v1.3h-1.3zM1154.32 1168.87h1.3v1.3h-1.3zM1163.63 1171.08h1.3v1.3h-1.3zM1161.4 1170.5h1.3v1.3h-1.3z" fill="#2a66b3" fill-opacity="0.9"/>
<path d="M1165.78 1169.56h1.3v1.3h-1.3zM1162.22 1169.44h1.3v1.3h-1.3zM1160.8 1169.38h1.3v1.3h-1.3zM1162.65 1170.63h1.3v1.3h-1.3zM1167.24 1173.92h1.3v1.3h-1.3zM1162.25 1171.81h1.3v1.3h-1.3zM1164.33 1172.28h1.3v1.3h-1.3zM1163.56 1170.8h1.3v1.3h-1.3zM1162.19 1167.65h1.3v1.3h-1.3zM1165.94 1173.9h1.3v1.3h-1.3zM1165.35 1171.31h1.3v1.3h-1.3zM1164.25 1168.65h1.3v1.3h-1.3zM1158.51 1171.99h1.3v1.3h-1.3zM1164.06 1168.34h1.3v1.3h-1.3zM1160.8 1173.83h1.3v1.3h-1.3zM1158.45 1175.29h1.3v1.3h-1.3zM1161.49 1169.93h1.3v1.3h-1.3zM1162.08 1170.47h1.3v1.3h-1.3zM1162.91 1167.75h1.3v1.3h-1.3zM1166.51 1167.65h1.3v1.3h-1.3zM1162.08 1171.66h1.3v1.3h-1.3zM1161.99 1168.7h1.3v1.3h-1.3zM1164.5 1168.9h1.3v1.3h-1.3zM1160.01 1169.69h1.3v1.3h-1.3zM1162.88 1175.11h1.3v1.3h-1.3zM1160.43 1172.91h1.3v1.3h-1.3zM1161.3 1168.93h1.3v1.3h-1.3zM1162.59 1170.81h1.3v1.3h-1.3zM1165.92 1175.25h1.3v1.3h-1.3zM1161.72 1173.99h1.3v1.3h-1.3zM1166.29 1172.44h1.3v1.3h-1.3zM1161.37 1172.7h1.3v1.3h-1.3zM1163.2 1171.06h1.3v1.3h-1.3zM1162.75 1171.99h1.3v1.3h-1.3zM1166.62 1173.39h1.3v1.3h-1.3zM1162.93 1172.99h1.3v1.3h-1.3zM1167.57 1167.19h1.3v1.3h-1.3zM1167.62 1165.99h1.3v1.3h-1.3zM1165.02 1171.78h1.3v1.3h-1.3zM1167.65 1170.84h1.3v1.3h-1.3zM1162.15 1167.61h1.3v1.3h-1.3zM1160 1172.3h1.3v1.3h-1.3zM1162.84 1167.85h1.3v1.3h-1.3zM1164.99 1167.71h1.3v1.3h-1.3zM1162.28 1168.62h1.3v1.3h-1.3zM1168.13 1174.39h1.3v1.3h-1.3zM1163.06 1165.29h1.3v1.3h-1.3zM1164.27 1170.22h1.3v1.3h-1.3zM1164.48 1171.7h1.3v1.3h-1.3zM1162.6 1172.78h1.3v1.3h-1.3zM1165.84 1170.63h1.3v1.3h-1.3zM1162.36 1168.56h1.3v1.3h-1.3zM1165.44 1166.7h1.3v1.3h-1.3zM1163.05 1167.75h1.3v1.3h-1.3zM1159.6 1171.81h1.3v1.3h-1.3zM1163.43 1170.11h1.3v1.3h-1.3zM1165.95 1165.52h1.3v1.3h-1.3zM1163.31 1170.87h1.3v1.3h-1.3zM1165.83 1166.75h1.3v1.3h-1.3zM1165.5 1170.66h1.3v1.3h-1.3zM1167.3 1173.42h1.3v1.3h-1.3zM1163.5 1168.73h1.3v1.3h-1.3zM1162.55 1167.18h1.3v1.3h-1.3zM1163.42 1164.36h1.3v1.3h-1.3zM1163.26 1171.28h1.3v1.3h-1.3zM1166.28 1168.96h1.3v1.3h-1.3zM1167.39 1168.05h1.3v1.3h-1.3zM1163.12 1164.37h1.3v1.3h-1.3zM1161.37 1167.63h1.3v1.3h-1.3zM1167.58 1171.55h1.3v1.3h-1.3zM1160.48 1171.56h1.3v1.3h-1.3zM1164.82 1169.32h1.3v1.3h-1.3zM1163.56 1169.11h1.3v1.3h-1.3zM1162.02 1164.81h1.3v1.3h-1.3zM1163.25 1173.76h1.3v1.3h-1.3zM1167.42 1169.18h1.3v1.3h-1.3zM1161.46 1169.38h1.3v1.3h-1.3zM1165.95 1171.03h1.3v1.3h-1.3zM1161.9 1171.06h1.3v1.3h-1.3zM1162.94 1171.51h1.3v1.3h-1.3zM1162.39 1165.69h1.3v1.3h-1.3zM1163.66 1172.23h1.3v1.3h-1.3zM1160.48 1169.69h1.3v1.3h-1.3zM1165.9 1168.9h1.3v1.3h-1.3zM1161.72 1175.94h1.3v1.3h-1.3zM1165.76 1173h1.3v1.3h-1.3zM1160.92 1174.77h1.3v1.3h-1.3zM1158.98 1168.49h1.3v1.3h-1.3zM1165.52 1173.89h1.3v1.3h-1.3zM1160.97 1168.06h1.3v1.3h-1.3z" fill="#2d8fc4" fill-opacity="0.9"/>
<path d="M1129.84 1171.62h1.1v1.1h-1.1zM1095.95 1160.79h1.1v1.1h-1.1zM1108.75 1159.13h1.1v1.1h-1.1zM1093.14 1160.62h1.1v1.1h-1.1zM1100.25 1169.03h1.1v1.1h-1.1zM1113.3 1157.26h1.1v1.1h-1.1zM1106.87 1164.37h1.1v1.1h-1.1zM1108.87 1158.36h1.1v1.1h-1.1zM1093.73 1155.22h1.1v1.1h-1.1zM1141.59 1170.01h1.1v1.1h-1.1zM1094.37 1169.34h1.1v1.1h-1.1zM1140.97 1166.27h1.1v1.1h-1.1zM1095.66 1164.78h1.1v1.1h-1.1zM1112.58 1158.8h1.1v1.1h-1.1zM1118.24 1155.17h1.1v1.1h-1.1zM1137.82 1167.89h1.1v1.1h-1.1zM1122.64 1173.7h1.1v1.1h-1.1zM1123.94 1160.03h1.1v1.1h-1.1zM1102.79 1157.77h1.1v1.1h-1.1zM1091.44 1170.49h1.1v1.1h-1.1zM1133.66 1160.93h1.1v1.1h-1.1zM1099.66 1167.76h1.1v1.1h-1.1zM1133.98 1173.53h1.1v1.1h-1.1zM1098.76 1170.69h1.1v1.1h-1.1zM1133.18 1169.85h1.1v1.1h-1.1z" fill="#4a70b5" fill-opacity="0.6"/>
<path d="M1120.65 1174.78h1.2v1.2h-1.2zM1172.01 1174.98h1.2v1.2h-1.2zM1124.96 1175.33h1.2v1.2h-1.2zM1125.04 1175.75h1.2v1.2h-1.2zM1111.66 1174.56h1.2v1.2h-1.2zM1145.39 1175.44h1.2v1.2h-1.2zM1171.43 1175.56h1.2v1.2h-1.2zM1180.24 1175.92h1.2v1.2h-1.2zM1137.92 1175.25h1.2v1.2h-1.2zM1103.22 1174.95h1.2v1.2h-1.2zM1146.85 1174.62h1.2v1.2h-1.2zM1157.86 1174.75h1.2v1.2h-1.2zM1132.65 1175.95h1.2v1.2h-1.2zM1096.24 1174.56h1.2v1.2h-1.2zM1132.27 1174.79h1.2v1.2h-1.2zM1161.46 1174.5h1.2v1.2h-1.2zM1173.6 1175.78h1.2v1.2h-1.2zM1168.05 1175.14h1.2v1.2h-1.2zM1116.18 1175.49h1.2v1.2h-1.2zM1140.01 1175.13h1.2v1.2h-1.2zM1121.88 1175.16h1.2v1.2h-1.2zM1155.61 1175.74h1.2v1.2h-1.2zM1180.11 1174.75h1.2v1.2h-1.2zM1117.46 1175.16h1.2v1.2h-1.2zM1145.03 1175.02h1.2v1.2h-1.2zM1107.13 1174.63h1.2v1.2h-1.2zM1120.34 1175.19h1.2v1.2h-1.2zM1187.04 1175.86h1.2v1.2h-1.2zM1176.14 1175.96h1.2v1.2h-1.2zM1186.07 1175.43h1.2v1.2h-1.2zM1170.55 1174.59h1.2v1.2h-1.2zM1156.67 1175.41h1.2v1.2h-1.2zM1117.59 1175.36h1.2v1.2h-1.2zM1185.14 1175.22h1.2v1.2h-1.2zM1153.68 1174.95h1.2v1.2h-1.2zM1122.37 1175.83h1.2v1.2h-1.2zM1089.87 1174.78h1.2v1.2h-1.2zM1156.9 1175.17h1.2v1.2h-1.2zM1095.78 1175.49h1.2v1.2h-1.2zM1125.32 1175.37h1.2v1.2h-1.2z" fill="#8fa8d3" fill-opacity="0.8"/>
<line x1="1086.3" y1="1107" x2="1086.3" y2="1137" stroke="#3a9a5a" stroke-width="1"/>
<path d="M1081.4 813.6H1142.5V947.4" stroke="#1a1a1a" stroke-width="1.3" fill="none"/>
<path d="M1083.7 924.1H1232.2V947.4" stroke="#1a1a1a" stroke-width="1.8" fill="none"/>
<path d="M1081.4 1039.5H1142.5V1177.4" stroke="#1a1a1a" stroke-width="1.3" fill="none"/>
<path d="M1083.7 1154.1H1232.2V1177.4" stroke="#1a1a1a" stroke-width="1.8" fill="none"/>
<text transform="translate(1076 1107) rotate(-90)" text-anchor="middle" stroke="#1a1718">CD45.1</text>
<text x="1083" y="1216.1" stroke="#1a1718">CD45.2</text>
<text x="1290" y="707" font-size="68" stroke="#1a1718" font-weight="bold">g</text>
<rect x="1448.1" y="1123.3" width="35.7" height="117.8" fill="#3659a7" stroke="#000" stroke-width="3.2"/>
<rect x="1512.9" y="1074.8" width="35.7" height="166.3" fill="#5db55e" stroke="#000" stroke-width="3.2"/>
<rect x="1621.3" y="961" width="35.7" height="280.1" fill="#3659a7" stroke="#000" stroke-width="3.2"/>
<rect x="1683.1" y="1238.1" width="39.6" height="3" fill="#5db55e" stroke="#000" stroke-width="3.2"/>
<rect x="1796.4" y="1220.9" width="34.5" height="20.2" fill="#3659a7" stroke="#000" stroke-width="3.2"/>
<rect x="1860.4" y="796.1" width="35.5" height="445" fill="#5db55e" stroke="#000" stroke-width="3.2"/>
<path d="M1450.4 1075.2a5.4 5.4 0 1 0 10.8 0a5.4 5.4 0 1 0 -10.8 0zM1470.1 1081.3a5.4 5.4 0 1 0 10.8 0a5.4 5.4 0 1 0 -10.8 0zM1470.1 1098.5a5.4 5.4 0 1 0 10.8 0a5.4 5.4 0 1 0 -10.8 0zM1450.4 1108.1a5.4 5.4 0 1 0 10.8 0a5.4 5.4 0 1 0 -10.8 0zM1460.3 1126.9a5.4 5.4 0 1 0 10.8 0a5.4 5.4 0 1 0 -10.8 0zM1450.4 1143.6a5.4 5.4 0 1 0 10.8 0a5.4 5.4 0 1 0 -10.8 0zM1470.1 1149a5.4 5.4 0 1 0 10.8 0a5.4 5.4 0 1 0 -10.8 0zM1460.3 1173.5a5.4 5.4 0 1 0 10.8 0a5.4 5.4 0 1 0 -10.8 0z" fill="#000"/>
<line x1="1465.7" y1="1106.9" x2="1465.7" y2="1132" stroke="#000" stroke-width="2.8"/>
<line x1="1454.9" y1="1106.9" x2="1476.5" y2="1106.9" stroke="#000" stroke-width="2.8"/>
<line x1="1454.9" y1="1132" x2="1476.5" y2="1132" stroke="#000" stroke-width="2.8"/>
<path d="M1525.1 998.5h10.8v10.8h-10.8zM1508.1 1036.1h10.8v10.8h-10.8zM1525.1 1042.4h10.8v10.8h-10.8zM1525.1 1055.8h10.8v10.8h-10.8zM1508.1 1080h10.8v10.8h-10.8zM1541.8 1083.9h10.8v10.8h-10.8zM1525.1 1089.8h10.8v10.8h-10.8zM1525.1 1137.3h10.8v10.8h-10.8z" fill="#000"/>
<line x1="1530.5" y1="1056.4" x2="1530.5" y2="1086.3" stroke="#000" stroke-width="2.8"/>
<line x1="1519.3" y1="1056.4" x2="1541.7" y2="1056.4" stroke="#000" stroke-width="2.8"/>
<line x1="1519.3" y1="1086.3" x2="1541.7" y2="1086.3" stroke="#000" stroke-width="2.8"/>
<path d="M1633.5 882.2a5.4 5.4 0 1 0 10.8 0a5.4 5.4 0 1 0 -10.8 0zM1623.5 904.4a5.4 5.4 0 1 0 10.8 0a5.4 5.4 0 1 0 -10.8 0zM1643.1 913.5a5.4 5.4 0 1 0 10.8 0a5.4 5.4 0 1 0 -10.8 0zM1633.5 943.5a5.4 5.4 0 1 0 10.8 0a5.4 5.4 0 1 0 -10.8 0zM1623.5 979.8a5.4 5.4 0 1 0 10.8 0a5.4 5.4 0 1 0 -10.8 0zM1643.1 970.7a5.4 5.4 0 1 0 10.8 0a5.4 5.4 0 1 0 -10.8 0zM1633.5 1017.1a5.4 5.4 0 1 0 10.8 0a5.4 5.4 0 1 0 -10.8 0zM1633.5 1037a5.4 5.4 0 1 0 10.8 0a5.4 5.4 0 1 0 -10.8 0z" fill="#000"/>
<line x1="1638.9" y1="936.2" x2="1638.9" y2="975.2" stroke="#000" stroke-width="2.8"/>
<line x1="1627.7" y1="936.2" x2="1650.1" y2="936.2" stroke="#000" stroke-width="2.8"/>
<line x1="1627.7" y1="975.2" x2="1650.1" y2="975.2" stroke="#000" stroke-width="2.8"/>
<path d="M1688 1232.5h8v8h-8zM1701 1234h8v8h-8zM1712 1234h8v8h-8z" fill="#000"/>
<path d="M1795.1 1210.5a5.4 5.4 0 1 0 10.8 0a5.4 5.4 0 1 0 -10.8 0zM1806.6 1214a5.4 5.4 0 1 0 10.8 0a5.4 5.4 0 1 0 -10.8 0zM1816.6 1216.5a5.4 5.4 0 1 0 10.8 0a5.4 5.4 0 1 0 -10.8 0zM1827.1 1218.5a5.4 5.4 0 1 0 10.8 0a5.4 5.4 0 1 0 -10.8 0zM1800.1 1217.5a5.4 5.4 0 1 0 10.8 0a5.4 5.4 0 1 0 -10.8 0zM1812.6 1220.5a5.4 5.4 0 1 0 10.8 0a5.4 5.4 0 1 0 -10.8 0zM1806.6 1232a5.4 5.4 0 1 0 10.8 0a5.4 5.4 0 1 0 -10.8 0z" fill="#000"/>
<line x1="1801" y1="1217.5" x2="1822" y2="1217.5" stroke="#000" stroke-width="2.8"/>
<path d="M1862.1 751.5h10.8v10.8h-10.8zM1882 754.9h10.8v10.8h-10.8zM1862.1 761.6h10.8v10.8h-10.8zM1862.1 774.6h10.8v10.8h-10.8zM1882 782.8h10.8v10.8h-10.8zM1862.1 791.9h10.8v10.8h-10.8zM1862.1 839.6h10.8v10.8h-10.8zM1882 833.9h10.8v10.8h-10.8z" fill="#000"/>
<line x1="1877.8" y1="779.5" x2="1877.8" y2="802.7" stroke="#000" stroke-width="2.8"/>
<line x1="1867" y1="779.5" x2="1888.6" y2="779.5" stroke="#000" stroke-width="2.8"/>
<line x1="1867" y1="802.7" x2="1888.6" y2="802.7" stroke="#000" stroke-width="2.8"/>
<path d="M1465.4 1046.6V697.7H1530.3V976.2" stroke="#000" stroke-width="3.2" fill="none"/>
<path d="M1638.9 853.5V697.7H1704.8V1208" stroke="#000" stroke-width="3.2" fill="none"/>
<path d="M1812 1180.7V697.7H1877.5V728.6" stroke="#000" stroke-width="3.2" fill="none"/>
<line x1="1422.2" y1="740" x2="1422.2" y2="1244.3" stroke="#000" stroke-width="3.3"/>
<line x1="1400.9" y1="1241.1" x2="1422.2" y2="1241.1" stroke="#000" stroke-width="3.3"/>
<text x="1390.5" y="1256" text-anchor="end" stroke="#1a1718">0</text>
<line x1="1400.9" y1="1191.35" x2="1422.2" y2="1191.35" stroke="#000" stroke-width="3.3"/>
<text x="1390.5" y="1206.25" text-anchor="end" stroke="#1a1718">10</text>
<line x1="1400.9" y1="1141.6" x2="1422.2" y2="1141.6" stroke="#000" stroke-width="3.3"/>
<text x="1390.5" y="1156.5" text-anchor="end" stroke="#1a1718">20</text>
<line x1="1400.9" y1="1091.85" x2="1422.2" y2="1091.85" stroke="#000" stroke-width="3.3"/>
<text x="1390.5" y="1106.75" text-anchor="end" stroke="#1a1718">30</text>
<line x1="1400.9" y1="1042.1" x2="1422.2" y2="1042.1" stroke="#000" stroke-width="3.3"/>
<text x="1390.5" y="1057" text-anchor="end" stroke="#1a1718">40</text>
<line x1="1400.9" y1="992.35" x2="1422.2" y2="992.35" stroke="#000" stroke-width="3.3"/>
<text x="1390.5" y="1007.25" text-anchor="end" stroke="#1a1718">50</text>
<line x1="1400.9" y1="942.6" x2="1422.2" y2="942.6" stroke="#000" stroke-width="3.3"/>
<text x="1390.5" y="957.5" text-anchor="end" stroke="#1a1718">60</text>
<line x1="1400.9" y1="892.85" x2="1422.2" y2="892.85" stroke="#000" stroke-width="3.3"/>
<text x="1390.5" y="907.75" text-anchor="end" stroke="#1a1718">70</text>
<line x1="1400.9" y1="843.1" x2="1422.2" y2="843.1" stroke="#000" stroke-width="3.3"/>
<text x="1390.5" y="858" text-anchor="end" stroke="#1a1718">80</text>
<line x1="1400.9" y1="793.35" x2="1422.2" y2="793.35" stroke="#000" stroke-width="3.3"/>
<text x="1390.5" y="808.25" text-anchor="end" stroke="#1a1718">90</text>
<line x1="1400.9" y1="743.6" x2="1422.2" y2="743.6" stroke="#000" stroke-width="3.3"/>
<text x="1390.5" y="758.5" text-anchor="end" stroke="#1a1718">100</text>
<line x1="1400.9" y1="1241.1" x2="1924.3" y2="1241.1" stroke="#000" stroke-width="3.3"/>
<line x1="1497.5" y1="1241.1" x2="1497.5" y2="1262.5" stroke="#000" stroke-width="3.3"/>
<line x1="1670.7" y1="1241.1" x2="1670.7" y2="1262.5" stroke="#000" stroke-width="3.3"/>
<line x1="1843.8" y1="1241.1" x2="1843.8" y2="1262.5" stroke="#000" stroke-width="3.3"/>
<text transform="translate(1319.5 987.8) rotate(-90)" text-anchor="middle" stroke="#1a1718" textLength="335" lengthAdjust="spacing" xml:space="preserve">Cell frequency (%)</text>
<text x="1458" y="672.7" text-anchor="middle" stroke="#1a1718">p=0.0082</text>
<text x="1666.4" y="672.7" text-anchor="middle" stroke="#1a1718">p&lt;0.0001</text>
<text x="1854" y="672.7" text-anchor="middle" stroke="#1a1718">p&lt;0.0001</text>
<text stroke="#1a1718" transform="translate(1503.8 1281) rotate(-45)" text-anchor="end" xml:space="preserve">Gr-1<tspan dy="-16" dx="-1">+</tspan><tspan dy="16" dx="-12">CD11b</tspan><tspan dy="-16" dx="-1">+</tspan><tspan dy="16" dx="-8"> Myeloid/Total</tspan></text>
<text transform="translate(1677 1279.5) rotate(-45)" text-anchor="end" stroke="#1a1718">B-cells/Lymphoid</text>
<text transform="translate(1850 1278.5) rotate(-45)" text-anchor="end" stroke="#1a1718">T-cells/Lymphoid</text>
<path d="M1857 1331.8a5.4 5.4 0 1 0 10.8 0a5.4 5.4 0 1 0 -10.8 0z" fill="#000"/>
<path d="M1857.1 1374.1h10.6v10.6h-10.6z" fill="#000"/>
<text x="1878.5" y="1346.5" stroke="#1a1718">WT</text>
<text x="1877.3" y="1394" stroke="#1a1718">N1-IC<tspan dy="-19.5" font-size="24">iOE</tspan></text>
<text x="108" y="1378.7" font-size="68" stroke="#1a1718" font-weight="bold">h</text>
<text x="190.5" y="1397.4" fill="#e7222f" stroke="#e7222f">WT</text>
<text x="377" y="1397.4" fill="#e7222f" stroke="#e7222f">N1-IC<tspan dy="-19.5" font-size="24">iOE</tspan></text>
<path d="M365.7 1402.4V1580.7H184.2" stroke="#777" stroke-width="1.1" fill="none"/>
<path d="M184.5 1578h3M185.5 1564.98h1.4M185.5 1557.36h1.4M185.5 1547.77h1.4M185.5 1541.45h1.4M184.5 1534.75h3M185.5 1521.73h1.4M185.5 1514.11h1.4M185.5 1504.52h1.4M185.5 1498.2h1.4M184.5 1491.5h3M185.5 1478.48h1.4M185.5 1470.86h1.4M185.5 1461.27h1.4M185.5 1454.95h1.4M184.5 1448.25h3M185.5 1435.23h1.4M185.5 1427.61h1.4M185.5 1418.02h1.4M185.5 1411.7h1.4" stroke="#333" stroke-width="1" fill="none"/>
<path d="M187 1580.7v3M200.32 1580.7v1.6M208.11 1580.7v1.6M217.93 1580.7v1.6M224.4 1580.7v1.6M229.23 1580.7v1.6M231.25 1580.7v3M244.57 1580.7v1.6M252.36 1580.7v1.6M262.18 1580.7v1.6M268.65 1580.7v1.6M273.48 1580.7v1.6M275.5 1580.7v3M288.82 1580.7v1.6M296.61 1580.7v1.6M306.43 1580.7v1.6M312.9 1580.7v1.6M317.73 1580.7v1.6M319.75 1580.7v3M333.07 1580.7v1.6M340.86 1580.7v1.6M350.68 1580.7v1.6M357.15 1580.7v1.6M361.98 1580.7v1.6M364 1580.7v3" stroke="#333" stroke-width="1" fill="none"/>
<path d="M228.78 1496.39h1.2v1.2h-1.2zM229.27 1490.81h1.2v1.2h-1.2zM234.16 1495.28h1.2v1.2h-1.2zM235.9 1488.58h1.2v1.2h-1.2zM237.8 1500.1h1.2v1.2h-1.2zM232.47 1495.46h1.2v1.2h-1.2zM229.89 1492.2h1.2v1.2h-1.2zM228.06 1493.47h1.2v1.2h-1.2zM233.17 1500.09h1.2v1.2h-1.2zM235.68 1497.3h1.2v1.2h-1.2zM231.28 1491.81h1.2v1.2h-1.2zM231.35 1494.17h1.2v1.2h-1.2zM226.01 1497.07h1.2v1.2h-1.2zM227.23 1490.28h1.2v1.2h-1.2zM232.57 1490.29h1.2v1.2h-1.2zM238.09 1492.48h1.2v1.2h-1.2zM237.78 1499.2h1.2v1.2h-1.2zM230.83 1495.12h1.2v1.2h-1.2zM236.86 1491.24h1.2v1.2h-1.2zM232.8 1490.05h1.2v1.2h-1.2zM232.7 1491.13h1.2v1.2h-1.2zM232.78 1498.29h1.2v1.2h-1.2zM237.18 1493.7h1.2v1.2h-1.2zM233.18 1497.52h1.2v1.2h-1.2zM231.53 1487.41h1.2v1.2h-1.2zM236.23 1488.06h1.2v1.2h-1.2zM235.63 1487.91h1.2v1.2h-1.2zM238.65 1487.49h1.2v1.2h-1.2zM235.35 1500.92h1.2v1.2h-1.2zM229.27 1500.84h1.2v1.2h-1.2zM229.73 1483.68h1.2v1.2h-1.2zM234.93 1496.7h1.2v1.2h-1.2zM232.32 1491.39h1.2v1.2h-1.2zM231.23 1491.47h1.2v1.2h-1.2zM226.49 1490.01h1.2v1.2h-1.2zM238.55 1501.17h1.2v1.2h-1.2zM231.29 1489.24h1.2v1.2h-1.2zM233.83 1498.61h1.2v1.2h-1.2zM234.93 1486.83h1.2v1.2h-1.2zM233.04 1493.74h1.2v1.2h-1.2zM237.33 1499.32h1.2v1.2h-1.2zM234.26 1499.42h1.2v1.2h-1.2zM231.17 1501.12h1.2v1.2h-1.2zM231.07 1495.09h1.2v1.2h-1.2zM235.59 1488.18h1.2v1.2h-1.2zM230.14 1483.72h1.2v1.2h-1.2zM233.05 1492.71h1.2v1.2h-1.2zM231.4 1495.63h1.2v1.2h-1.2zM225.39 1492.88h1.2v1.2h-1.2zM232.79 1491.6h1.2v1.2h-1.2zM235.17 1502.25h1.2v1.2h-1.2zM231 1488.04h1.2v1.2h-1.2zM230.47 1493.49h1.2v1.2h-1.2zM234.47 1488.45h1.2v1.2h-1.2zM235.86 1487.59h1.2v1.2h-1.2z" fill="#3560ac" fill-opacity="0.85"/>
<path d="M265.92 1555.92h1.3v1.3h-1.3zM263.76 1575.86h1.3v1.3h-1.3zM259.43 1549.09h1.3v1.3h-1.3zM263.84 1560.94h1.3v1.3h-1.3zM253.03 1554.17h1.3v1.3h-1.3zM256.59 1558.26h1.3v1.3h-1.3zM269.15 1551.59h1.3v1.3h-1.3zM260.37 1553.11h1.3v1.3h-1.3zM264.34 1552.9h1.3v1.3h-1.3zM258.64 1542.58h1.3v1.3h-1.3zM259.93 1564.98h1.3v1.3h-1.3zM260.39 1566.52h1.3v1.3h-1.3zM262.63 1550.84h1.3v1.3h-1.3zM251.12 1543.34h1.3v1.3h-1.3zM268.44 1536.12h1.3v1.3h-1.3zM255.1 1538.36h1.3v1.3h-1.3zM257.72 1558.4h1.3v1.3h-1.3zM264.54 1527.61h1.3v1.3h-1.3zM269.69 1544.18h1.3v1.3h-1.3zM257.5 1570.21h1.3v1.3h-1.3zM260.51 1536.72h1.3v1.3h-1.3zM257.2 1542.63h1.3v1.3h-1.3zM254.99 1547.16h1.3v1.3h-1.3zM266.22 1555.04h1.3v1.3h-1.3zM255.11 1552.33h1.3v1.3h-1.3zM261.19 1559.77h1.3v1.3h-1.3zM259.05 1556.26h1.3v1.3h-1.3zM273.53 1552.1h1.3v1.3h-1.3zM254.56 1554.78h1.3v1.3h-1.3zM256.22 1546.74h1.3v1.3h-1.3zM262.12 1554.88h1.3v1.3h-1.3zM259.31 1560.77h1.3v1.3h-1.3zM259.85 1535.97h1.3v1.3h-1.3zM266.23 1546.81h1.3v1.3h-1.3zM268.22 1543.46h1.3v1.3h-1.3zM264.41 1554.63h1.3v1.3h-1.3zM254.34 1567.2h1.3v1.3h-1.3zM249.76 1561.53h1.3v1.3h-1.3zM267.5 1556.7h1.3v1.3h-1.3zM265.01 1545.29h1.3v1.3h-1.3zM260.94 1553.59h1.3v1.3h-1.3zM263.5 1559.15h1.3v1.3h-1.3zM259.77 1542.92h1.3v1.3h-1.3zM257.65 1555.73h1.3v1.3h-1.3zM251.11 1536.56h1.3v1.3h-1.3zM258.55 1544.63h1.3v1.3h-1.3zM258.97 1548.11h1.3v1.3h-1.3zM265.62 1528.19h1.3v1.3h-1.3zM259.18 1556.47h1.3v1.3h-1.3zM263.91 1564.78h1.3v1.3h-1.3zM267.28 1538.91h1.3v1.3h-1.3zM264.79 1547.14h1.3v1.3h-1.3zM256.22 1568.69h1.3v1.3h-1.3zM257.25 1541.15h1.3v1.3h-1.3zM258.57 1541.17h1.3v1.3h-1.3zM267 1555.38h1.3v1.3h-1.3zM269.35 1555.74h1.3v1.3h-1.3zM257.33 1563.08h1.3v1.3h-1.3zM257.1 1545.66h1.3v1.3h-1.3zM260 1551.45h1.3v1.3h-1.3zM268.13 1544h1.3v1.3h-1.3zM263.1 1550.68h1.3v1.3h-1.3zM253.49 1538.36h1.3v1.3h-1.3zM259.69 1555.67h1.3v1.3h-1.3zM262.91 1556.53h1.3v1.3h-1.3zM261.29 1545.82h1.3v1.3h-1.3zM263.55 1539.42h1.3v1.3h-1.3zM252.98 1547.15h1.3v1.3h-1.3zM252.46 1545.05h1.3v1.3h-1.3zM256.54 1544.59h1.3v1.3h-1.3zM260.73 1541.75h1.3v1.3h-1.3zM258.47 1531.22h1.3v1.3h-1.3zM261.87 1540.81h1.3v1.3h-1.3zM256.21 1553.81h1.3v1.3h-1.3zM246.41 1546.83h1.3v1.3h-1.3zM261.56 1552.19h1.3v1.3h-1.3zM252.06 1553.66h1.3v1.3h-1.3zM261.89 1539.74h1.3v1.3h-1.3zM265.45 1550.43h1.3v1.3h-1.3zM261.11 1545.8h1.3v1.3h-1.3zM264.28 1552.13h1.3v1.3h-1.3zM267.8 1556.23h1.3v1.3h-1.3zM257.31 1548.41h1.3v1.3h-1.3zM266.5 1546.77h1.3v1.3h-1.3zM263.29 1557.05h1.3v1.3h-1.3zM261.79 1553.48h1.3v1.3h-1.3zM261.81 1542.19h1.3v1.3h-1.3zM268.24 1549.44h1.3v1.3h-1.3zM257.26 1542.68h1.3v1.3h-1.3zM263.15 1538.34h1.3v1.3h-1.3zM255 1574.21h1.3v1.3h-1.3zM268.86 1563.23h1.3v1.3h-1.3zM269.18 1557.91h1.3v1.3h-1.3zM250.9 1564.86h1.3v1.3h-1.3zM268.43 1556.69h1.3v1.3h-1.3zM249.26 1565.43h1.3v1.3h-1.3zM269.19 1545.29h1.3v1.3h-1.3zM261.77 1560.02h1.3v1.3h-1.3zM260.49 1563.76h1.3v1.3h-1.3zM261.49 1559.03h1.3v1.3h-1.3zM261.51 1533.81h1.3v1.3h-1.3zM262.68 1566.24h1.3v1.3h-1.3zM267.84 1570.94h1.3v1.3h-1.3zM264.33 1544.07h1.3v1.3h-1.3zM261.11 1528.68h1.3v1.3h-1.3zM259.87 1561.55h1.3v1.3h-1.3zM248 1553.29h1.3v1.3h-1.3zM265.95 1566.45h1.3v1.3h-1.3zM255.43 1543.41h1.3v1.3h-1.3zM249.72 1539.13h1.3v1.3h-1.3zM264.21 1575.1h1.3v1.3h-1.3zM254.11 1567.06h1.3v1.3h-1.3zM263.57 1545.24h1.3v1.3h-1.3zM260.59 1553.55h1.3v1.3h-1.3zM273.82 1571.95h1.3v1.3h-1.3zM274.63 1552.56h1.3v1.3h-1.3zM266.91 1566.9h1.3v1.3h-1.3zM264.08 1555.2h1.3v1.3h-1.3zM259.89 1546.24h1.3v1.3h-1.3zM253.59 1573.73h1.3v1.3h-1.3zM262.59 1550.6h1.3v1.3h-1.3zM262.06 1572.17h1.3v1.3h-1.3zM260.36 1547.9h1.3v1.3h-1.3zM256.5 1550.74h1.3v1.3h-1.3zM258.36 1553.39h1.3v1.3h-1.3zM255.83 1573.52h1.3v1.3h-1.3zM266.21 1560.53h1.3v1.3h-1.3zM265.31 1560.56h1.3v1.3h-1.3zM265.07 1567.46h1.3v1.3h-1.3zM267.07 1566.74h1.3v1.3h-1.3zM257.97 1550.97h1.3v1.3h-1.3zM256.6 1562.18h1.3v1.3h-1.3zM266.02 1545.56h1.3v1.3h-1.3zM268.46 1537.96h1.3v1.3h-1.3zM260.44 1558.42h1.3v1.3h-1.3zM260.78 1555.52h1.3v1.3h-1.3zM268.12 1554.84h1.3v1.3h-1.3zM254.37 1559.35h1.3v1.3h-1.3zM260.41 1552.33h1.3v1.3h-1.3zM257.58 1534.84h1.3v1.3h-1.3zM253.47 1546.87h1.3v1.3h-1.3zM267.93 1537.43h1.3v1.3h-1.3zM256.62 1557.21h1.3v1.3h-1.3zM246.45 1566.68h1.3v1.3h-1.3zM256.36 1558.71h1.3v1.3h-1.3zM258.09 1554.57h1.3v1.3h-1.3zM261.64 1550.99h1.3v1.3h-1.3zM249.97 1533.82h1.3v1.3h-1.3zM260.75 1567.48h1.3v1.3h-1.3zM257.71 1557.22h1.3v1.3h-1.3zM261.98 1556.65h1.3v1.3h-1.3zM266.99 1533.48h1.3v1.3h-1.3zM262.66 1548.92h1.3v1.3h-1.3zM259.11 1541.02h1.3v1.3h-1.3zM256.25 1538.96h1.3v1.3h-1.3zM271.27 1551.12h1.3v1.3h-1.3zM265.48 1539.59h1.3v1.3h-1.3zM261.85 1567.83h1.3v1.3h-1.3zM260.75 1539.3h1.3v1.3h-1.3zM259.54 1539.34h1.3v1.3h-1.3zM252.58 1548.28h1.3v1.3h-1.3zM258.59 1541.51h1.3v1.3h-1.3zM255.65 1540.12h1.3v1.3h-1.3zM262.43 1567.29h1.3v1.3h-1.3zM259.73 1577.14h1.3v1.3h-1.3zM251.23 1554.21h1.3v1.3h-1.3zM254.01 1549.11h1.3v1.3h-1.3zM261.62 1557.54h1.3v1.3h-1.3zM267.83 1544.51h1.3v1.3h-1.3zM253.49 1548.8h1.3v1.3h-1.3zM262.77 1542.83h1.3v1.3h-1.3zM266.4 1570.69h1.3v1.3h-1.3zM252.41 1555.24h1.3v1.3h-1.3zM267.14 1528.53h1.3v1.3h-1.3zM262.24 1548.36h1.3v1.3h-1.3zM252.4 1566.39h1.3v1.3h-1.3zM262.31 1545.4h1.3v1.3h-1.3zM263.68 1558.52h1.3v1.3h-1.3zM265.65 1557.78h1.3v1.3h-1.3zM263.47 1537.24h1.3v1.3h-1.3zM258.45 1552.51h1.3v1.3h-1.3zM258.71 1538.67h1.3v1.3h-1.3zM250.01 1553.91h1.3v1.3h-1.3zM261.2 1544.17h1.3v1.3h-1.3zM258.48 1540.61h1.3v1.3h-1.3zM256.47 1549.85h1.3v1.3h-1.3zM257.11 1558.94h1.3v1.3h-1.3zM260.14 1552.54h1.3v1.3h-1.3zM263.45 1565.86h1.3v1.3h-1.3zM264.63 1553.67h1.3v1.3h-1.3zM260.01 1541.58h1.3v1.3h-1.3zM258.93 1558.98h1.3v1.3h-1.3zM262.37 1546.47h1.3v1.3h-1.3zM252.95 1533.07h1.3v1.3h-1.3zM262.94 1563.01h1.3v1.3h-1.3zM263.26 1534.94h1.3v1.3h-1.3zM259.71 1553.6h1.3v1.3h-1.3zM255.45 1555.06h1.3v1.3h-1.3zM259.79 1541.24h1.3v1.3h-1.3zM253.5 1560.48h1.3v1.3h-1.3zM263.16 1540.62h1.3v1.3h-1.3zM254.87 1561.41h1.3v1.3h-1.3zM264.6 1547.44h1.3v1.3h-1.3zM270.62 1547.61h1.3v1.3h-1.3zM254.62 1563.77h1.3v1.3h-1.3zM259.86 1555.04h1.3v1.3h-1.3zM261.23 1539.29h1.3v1.3h-1.3zM253.83 1548.73h1.3v1.3h-1.3zM269.49 1539.27h1.3v1.3h-1.3zM269.2 1553.58h1.3v1.3h-1.3zM254.29 1554.12h1.3v1.3h-1.3zM264.43 1540.49h1.3v1.3h-1.3zM248.14 1555.17h1.3v1.3h-1.3zM254.3 1556.15h1.3v1.3h-1.3zM249.46 1549.34h1.3v1.3h-1.3zM256.12 1533.71h1.3v1.3h-1.3zM259.55 1553h1.3v1.3h-1.3zM257.64 1537.21h1.3v1.3h-1.3zM262.28 1530.58h1.3v1.3h-1.3zM264.23 1556.73h1.3v1.3h-1.3zM271.12 1561.31h1.3v1.3h-1.3zM263.14 1554.08h1.3v1.3h-1.3zM261.17 1535.53h1.3v1.3h-1.3zM269.82 1557.15h1.3v1.3h-1.3zM259.28 1537.63h1.3v1.3h-1.3zM269.94 1557.21h1.3v1.3h-1.3zM253.86 1558.84h1.3v1.3h-1.3zM272.42 1550.74h1.3v1.3h-1.3zM263.41 1546.15h1.3v1.3h-1.3zM257.21 1563.51h1.3v1.3h-1.3zM260.25 1560.25h1.3v1.3h-1.3zM259.16 1559.5h1.3v1.3h-1.3zM265.99 1539.15h1.3v1.3h-1.3zM254.54 1550.14h1.3v1.3h-1.3zM266.01 1554.23h1.3v1.3h-1.3zM268.47 1534.96h1.3v1.3h-1.3zM263.97 1543.75h1.3v1.3h-1.3zM261.6 1554.75h1.3v1.3h-1.3zM255.16 1548.34h1.3v1.3h-1.3zM254 1554.1h1.3v1.3h-1.3zM255.88 1545.25h1.3v1.3h-1.3zM262.32 1543.39h1.3v1.3h-1.3zM267.91 1543.58h1.3v1.3h-1.3zM266.11 1554.29h1.3v1.3h-1.3zM254.78 1548.46h1.3v1.3h-1.3zM255.97 1546.79h1.3v1.3h-1.3zM259.37 1572.17h1.3v1.3h-1.3zM258.48 1569.26h1.3v1.3h-1.3zM263.69 1535.79h1.3v1.3h-1.3zM247.09 1558.89h1.3v1.3h-1.3zM249.04 1559.36h1.3v1.3h-1.3zM267.18 1555.54h1.3v1.3h-1.3zM259.74 1548.08h1.3v1.3h-1.3zM262.56 1547.48h1.3v1.3h-1.3zM257.79 1546.7h1.3v1.3h-1.3zM268.03 1543.79h1.3v1.3h-1.3zM263.28 1537.62h1.3v1.3h-1.3zM256.72 1535.03h1.3v1.3h-1.3zM259.81 1558.94h1.3v1.3h-1.3zM262.83 1545.27h1.3v1.3h-1.3zM264.67 1546.97h1.3v1.3h-1.3zM263.24 1554.18h1.3v1.3h-1.3zM253.18 1559.99h1.3v1.3h-1.3zM260.36 1577.06h1.3v1.3h-1.3zM259.59 1544.6h1.3v1.3h-1.3zM269.96 1557.45h1.3v1.3h-1.3zM272.39 1556.92h1.3v1.3h-1.3zM259.78 1559.41h1.3v1.3h-1.3zM256.27 1545.82h1.3v1.3h-1.3zM257.67 1548.42h1.3v1.3h-1.3zM265.67 1545.41h1.3v1.3h-1.3zM262.93 1545.21h1.3v1.3h-1.3zM259.75 1552.96h1.3v1.3h-1.3zM254.53 1562.76h1.3v1.3h-1.3zM262.3 1565.86h1.3v1.3h-1.3zM266.76 1558.44h1.3v1.3h-1.3zM260.1 1538.4h1.3v1.3h-1.3zM259.68 1545.67h1.3v1.3h-1.3zM262.5 1545.61h1.3v1.3h-1.3zM268.04 1545.55h1.3v1.3h-1.3zM259.55 1561.74h1.3v1.3h-1.3zM261.02 1536.94h1.3v1.3h-1.3zM263.48 1548.74h1.3v1.3h-1.3zM248.67 1553.29h1.3v1.3h-1.3zM254.68 1542.37h1.3v1.3h-1.3zM263.89 1554.47h1.3v1.3h-1.3zM259.26 1576.15h1.3v1.3h-1.3zM263.51 1543.89h1.3v1.3h-1.3zM262.42 1549.59h1.3v1.3h-1.3zM247.81 1532.74h1.3v1.3h-1.3zM252.68 1574.93h1.3v1.3h-1.3zM259.9 1547.8h1.3v1.3h-1.3zM257.62 1562.37h1.3v1.3h-1.3zM261.17 1570.76h1.3v1.3h-1.3zM265.72 1570.05h1.3v1.3h-1.3zM260.3 1555.34h1.3v1.3h-1.3zM258.41 1549.04h1.3v1.3h-1.3zM250.65 1544.27h1.3v1.3h-1.3zM255.31 1543.46h1.3v1.3h-1.3zM268.27 1554.03h1.3v1.3h-1.3zM268.33 1560.93h1.3v1.3h-1.3zM266.5 1562.62h1.3v1.3h-1.3zM257.38 1560.28h1.3v1.3h-1.3zM259.07 1544.86h1.3v1.3h-1.3zM268.14 1576.03h1.3v1.3h-1.3zM255.15 1571.1h1.3v1.3h-1.3zM265.97 1541.2h1.3v1.3h-1.3zM262.63 1555.29h1.3v1.3h-1.3zM263.24 1546.88h1.3v1.3h-1.3zM253.32 1551.36h1.3v1.3h-1.3zM266.15 1560.08h1.3v1.3h-1.3zM264.95 1563.74h1.3v1.3h-1.3zM255.08 1550.51h1.3v1.3h-1.3zM263.03 1562.55h1.3v1.3h-1.3zM261.93 1556.99h1.3v1.3h-1.3zM261.8 1575.26h1.3v1.3h-1.3zM247.96 1550.72h1.3v1.3h-1.3zM275.79 1553.73h1.3v1.3h-1.3zM250.06 1552.55h1.3v1.3h-1.3zM252.44 1543.15h1.3v1.3h-1.3zM262.34 1570.81h1.3v1.3h-1.3zM263.76 1558.73h1.3v1.3h-1.3zM267.08 1553.32h1.3v1.3h-1.3zM255.88 1549.87h1.3v1.3h-1.3zM263.01 1547.8h1.3v1.3h-1.3zM257.01 1546.85h1.3v1.3h-1.3zM252.03 1539.16h1.3v1.3h-1.3zM260.46 1546.83h1.3v1.3h-1.3zM261.22 1567.22h1.3v1.3h-1.3zM262.79 1550.63h1.3v1.3h-1.3zM253.99 1538.54h1.3v1.3h-1.3zM263.24 1540.91h1.3v1.3h-1.3zM263.56 1538.6h1.3v1.3h-1.3zM261.8 1550.16h1.3v1.3h-1.3zM266.95 1546.47h1.3v1.3h-1.3zM258.78 1553.84h1.3v1.3h-1.3zM261.33 1570.51h1.3v1.3h-1.3zM259.46 1544.8h1.3v1.3h-1.3zM259.1 1556.47h1.3v1.3h-1.3zM262.4 1559.01h1.3v1.3h-1.3zM271.98 1550.64h1.3v1.3h-1.3zM253.79 1552.79h1.3v1.3h-1.3zM261.08 1533.93h1.3v1.3h-1.3zM263.73 1566.96h1.3v1.3h-1.3zM267.17 1533.61h1.3v1.3h-1.3zM269.24 1561.46h1.3v1.3h-1.3zM258.85 1556.8h1.3v1.3h-1.3zM270.05 1547.17h1.3v1.3h-1.3zM260.91 1544.54h1.3v1.3h-1.3zM269.47 1539.83h1.3v1.3h-1.3zM266.53 1532.23h1.3v1.3h-1.3zM255.41 1544.1h1.3v1.3h-1.3zM265.94 1532.28h1.3v1.3h-1.3zM264.6 1543.66h1.3v1.3h-1.3zM268.41 1547.41h1.3v1.3h-1.3zM263.9 1549.02h1.3v1.3h-1.3zM271.7 1546.84h1.3v1.3h-1.3zM260.85 1573.91h1.3v1.3h-1.3zM261.46 1558.92h1.3v1.3h-1.3zM256.6 1553.31h1.3v1.3h-1.3zM247.47 1552.22h1.3v1.3h-1.3zM257.14 1533.65h1.3v1.3h-1.3zM252.55 1564.18h1.3v1.3h-1.3zM263.54 1533.49h1.3v1.3h-1.3zM271.82 1542.97h1.3v1.3h-1.3zM258.8 1553.85h1.3v1.3h-1.3zM254.22 1532.33h1.3v1.3h-1.3zM256.55 1564.64h1.3v1.3h-1.3zM266.68 1532.76h1.3v1.3h-1.3zM268.18 1551.39h1.3v1.3h-1.3zM263.99 1551.6h1.3v1.3h-1.3zM263.47 1539.45h1.3v1.3h-1.3zM255.58 1542.88h1.3v1.3h-1.3zM258.8 1558.15h1.3v1.3h-1.3zM253.74 1569.41h1.3v1.3h-1.3zM257.23 1544.2h1.3v1.3h-1.3zM265.2 1556.01h1.3v1.3h-1.3zM258.98 1538.64h1.3v1.3h-1.3zM255.03 1532.55h1.3v1.3h-1.3zM267.82 1563.51h1.3v1.3h-1.3z" fill="#3a63ae" fill-opacity="0.85"/>
<path d="M266.39 1555.36h1.3v1.3h-1.3zM261.96 1557.1h1.3v1.3h-1.3zM263.75 1550.26h1.3v1.3h-1.3zM262.02 1566.51h1.3v1.3h-1.3zM256.11 1542.53h1.3v1.3h-1.3zM258.22 1557.08h1.3v1.3h-1.3zM264.43 1549.72h1.3v1.3h-1.3zM262.94 1551.67h1.3v1.3h-1.3zM261.87 1548.36h1.3v1.3h-1.3zM260.92 1551.97h1.3v1.3h-1.3zM264.27 1567.04h1.3v1.3h-1.3zM255.76 1555.59h1.3v1.3h-1.3zM260.99 1558.52h1.3v1.3h-1.3zM264.07 1557.26h1.3v1.3h-1.3zM263.34 1545.6h1.3v1.3h-1.3zM256.07 1563.25h1.3v1.3h-1.3zM264.49 1545.58h1.3v1.3h-1.3zM264.73 1556.49h1.3v1.3h-1.3zM253.91 1558.06h1.3v1.3h-1.3zM258.15 1559.86h1.3v1.3h-1.3zM259.03 1546.99h1.3v1.3h-1.3zM256.54 1550.54h1.3v1.3h-1.3zM263.94 1547.47h1.3v1.3h-1.3zM255.63 1566.46h1.3v1.3h-1.3zM266.33 1556.65h1.3v1.3h-1.3zM259.45 1543.83h1.3v1.3h-1.3zM256.26 1555.77h1.3v1.3h-1.3zM264.76 1544.85h1.3v1.3h-1.3zM261 1550.13h1.3v1.3h-1.3zM260.26 1555.38h1.3v1.3h-1.3zM267.05 1547.7h1.3v1.3h-1.3zM263.46 1559.34h1.3v1.3h-1.3zM260.18 1551h1.3v1.3h-1.3zM257.12 1559.28h1.3v1.3h-1.3zM259.46 1547.59h1.3v1.3h-1.3zM261.19 1546.21h1.3v1.3h-1.3zM257.99 1549.99h1.3v1.3h-1.3zM265.3 1550.61h1.3v1.3h-1.3zM262.52 1542.1h1.3v1.3h-1.3zM255.37 1564.27h1.3v1.3h-1.3zM259.85 1541.62h1.3v1.3h-1.3zM260.69 1556.1h1.3v1.3h-1.3zM256 1546.05h1.3v1.3h-1.3zM261.75 1545.78h1.3v1.3h-1.3zM263.31 1558.49h1.3v1.3h-1.3zM262.28 1549.1h1.3v1.3h-1.3zM260.87 1547.73h1.3v1.3h-1.3zM260.62 1554.15h1.3v1.3h-1.3zM260.13 1558.57h1.3v1.3h-1.3zM268.51 1548.3h1.3v1.3h-1.3zM261.99 1557.56h1.3v1.3h-1.3zM262.87 1550.39h1.3v1.3h-1.3zM259.61 1558.78h1.3v1.3h-1.3zM262.81 1555.42h1.3v1.3h-1.3zM258.67 1556.27h1.3v1.3h-1.3zM263.3 1550.75h1.3v1.3h-1.3zM262.87 1566.68h1.3v1.3h-1.3zM255.56 1556.1h1.3v1.3h-1.3zM257.61 1542.78h1.3v1.3h-1.3zM260.32 1555.69h1.3v1.3h-1.3z" fill="#4f8f70" fill-opacity="0.8"/>
<path d="M237.71 1549.57h1.1v1.1h-1.1zM231.76 1559.19h1.1v1.1h-1.1zM237.58 1540.22h1.1v1.1h-1.1zM225.88 1571.04h1.1v1.1h-1.1zM230.88 1540.84h1.1v1.1h-1.1zM233.91 1539.47h1.1v1.1h-1.1zM238.14 1528.98h1.1v1.1h-1.1zM239.8 1554.19h1.1v1.1h-1.1zM225.61 1572.12h1.1v1.1h-1.1zM222.97 1538.68h1.1v1.1h-1.1zM217.1 1553.33h1.1v1.1h-1.1zM237.61 1559.55h1.1v1.1h-1.1zM227.38 1565.77h1.1v1.1h-1.1zM218.34 1541.73h1.1v1.1h-1.1zM234.34 1573.43h1.1v1.1h-1.1zM234.02 1560.22h1.1v1.1h-1.1zM238.24 1545.94h1.1v1.1h-1.1zM243.21 1562.64h1.1v1.1h-1.1zM225.25 1545.84h1.1v1.1h-1.1zM239.17 1543.79h1.1v1.1h-1.1zM220.57 1568.84h1.1v1.1h-1.1zM230.95 1552.02h1.1v1.1h-1.1zM235.08 1570.27h1.1v1.1h-1.1zM219.01 1543.26h1.1v1.1h-1.1zM216.98 1546.83h1.1v1.1h-1.1zM230.06 1567.89h1.1v1.1h-1.1zM235.03 1554.74h1.1v1.1h-1.1zM227.11 1554.54h1.1v1.1h-1.1zM223.21 1567.55h1.1v1.1h-1.1zM238.65 1567.24h1.1v1.1h-1.1zM219.53 1559.23h1.1v1.1h-1.1zM237.62 1551.03h1.1v1.1h-1.1zM241.95 1570.14h1.1v1.1h-1.1zM237.29 1566.41h1.1v1.1h-1.1zM234.47 1569.18h1.1v1.1h-1.1zM218.94 1560.8h1.1v1.1h-1.1zM236.11 1556.39h1.1v1.1h-1.1zM223.25 1530.23h1.1v1.1h-1.1zM233.1 1566.56h1.1v1.1h-1.1zM223.19 1537.23h1.1v1.1h-1.1zM221.72 1531.5h1.1v1.1h-1.1zM235.28 1573.79h1.1v1.1h-1.1zM239.06 1544.27h1.1v1.1h-1.1zM235.98 1530.46h1.1v1.1h-1.1zM240.16 1542.61h1.1v1.1h-1.1zM215.1 1557.2h1.1v1.1h-1.1zM219.16 1540.2h1.1v1.1h-1.1zM216.77 1548.39h1.1v1.1h-1.1zM231.65 1565.75h1.1v1.1h-1.1zM216.19 1566.71h1.1v1.1h-1.1zM218.32 1537.77h1.1v1.1h-1.1zM233.88 1543.32h1.1v1.1h-1.1zM224.93 1554.29h1.1v1.1h-1.1zM221.54 1565.09h1.1v1.1h-1.1zM221.27 1567.29h1.1v1.1h-1.1zM239.26 1552.78h1.1v1.1h-1.1zM215.91 1564.35h1.1v1.1h-1.1zM215.85 1551.22h1.1v1.1h-1.1zM227.72 1530.03h1.1v1.1h-1.1zM233.9 1561.78h1.1v1.1h-1.1z" fill="#4a70b5" fill-opacity="0.6"/>
<path d="M184.2 1402.4H245.4V1580.7" stroke="#1a1a1a" stroke-width="1.6" fill="none"/>
<path d="M186.6 1522.2H319.5V1580.7" stroke="#1a1a1a" stroke-width="1.6" fill="none"/>
<path d="M555 1402.4H376.4V1582" stroke="#555" stroke-width="1.3" fill="none"/>
<path d="M376 1580h3M377 1566.83h1.4M377 1559.13h1.4M377 1549.42h1.4M377 1543.03h1.4M376 1536.25h3M377 1523.08h1.4M377 1515.38h1.4M377 1505.67h1.4M377 1499.28h1.4M376 1492.5h3M377 1479.33h1.4M377 1471.63h1.4M377 1461.92h1.4M377 1455.53h1.4M376 1448.75h3M377 1435.58h1.4M377 1427.88h1.4M377 1418.17h1.4M377 1411.78h1.4" stroke="#333" stroke-width="1" fill="none"/>
<path d="M377 1581.3v3M390.32 1581.3v1.6M398.11 1581.3v1.6M407.93 1581.3v1.6M414.4 1581.3v1.6M419.23 1581.3v1.6M421.25 1581.3v3M434.57 1581.3v1.6M442.36 1581.3v1.6M452.18 1581.3v1.6M458.65 1581.3v1.6M463.48 1581.3v1.6M465.5 1581.3v3M478.82 1581.3v1.6M486.61 1581.3v1.6M496.43 1581.3v1.6M502.9 1581.3v1.6M507.73 1581.3v1.6M509.75 1581.3v3M523.07 1581.3v1.6M530.86 1581.3v1.6M540.68 1581.3v1.6M547.15 1581.3v1.6M551.98 1581.3v1.6M554 1581.3v3" stroke="#333" stroke-width="1" fill="none"/>
<path d="M407.6 1496.4h1.25v1.25h-1.25zM403.7 1499.29h1.25v1.25h-1.25zM417.54 1513.92h1.25v1.25h-1.25zM430.34 1499.66h1.25v1.25h-1.25zM422.38 1498.49h1.25v1.25h-1.25zM418.26 1499.77h1.25v1.25h-1.25zM410.49 1500.52h1.25v1.25h-1.25zM402.66 1503.02h1.25v1.25h-1.25zM412.58 1492.55h1.25v1.25h-1.25zM412 1503.81h1.25v1.25h-1.25zM409.32 1503.27h1.25v1.25h-1.25zM419.76 1510.73h1.25v1.25h-1.25zM405.91 1499.24h1.25v1.25h-1.25zM419.28 1510.33h1.25v1.25h-1.25zM417.19 1505.2h1.25v1.25h-1.25zM402.72 1495.98h1.25v1.25h-1.25zM428.9 1498.04h1.25v1.25h-1.25zM433.1 1494.98h1.25v1.25h-1.25zM412.67 1489h1.25v1.25h-1.25zM420.33 1501.82h1.25v1.25h-1.25zM431.91 1501.14h1.25v1.25h-1.25zM412.9 1490.28h1.25v1.25h-1.25zM414.31 1506.54h1.25v1.25h-1.25zM421.21 1508.48h1.25v1.25h-1.25zM422.25 1499.68h1.25v1.25h-1.25zM420.07 1501.19h1.25v1.25h-1.25zM403.82 1511.83h1.25v1.25h-1.25zM418.14 1492.73h1.25v1.25h-1.25zM418.23 1501.99h1.25v1.25h-1.25zM423.37 1509.99h1.25v1.25h-1.25zM389.46 1503.84h1.25v1.25h-1.25zM427.86 1493.44h1.25v1.25h-1.25zM399.39 1501.93h1.25v1.25h-1.25zM417.83 1502.43h1.25v1.25h-1.25zM405.67 1496.77h1.25v1.25h-1.25zM416.64 1505.16h1.25v1.25h-1.25zM433.44 1502.04h1.25v1.25h-1.25zM409.93 1483.65h1.25v1.25h-1.25zM424.04 1499.09h1.25v1.25h-1.25zM414.08 1493.15h1.25v1.25h-1.25zM421.18 1487.57h1.25v1.25h-1.25zM415.91 1500.84h1.25v1.25h-1.25zM417.53 1509.05h1.25v1.25h-1.25zM414.17 1500.65h1.25v1.25h-1.25zM422.22 1489.24h1.25v1.25h-1.25zM412.54 1500.47h1.25v1.25h-1.25zM423.05 1494.44h1.25v1.25h-1.25zM421.78 1502.67h1.25v1.25h-1.25zM402.46 1489.73h1.25v1.25h-1.25zM402.92 1500.97h1.25v1.25h-1.25zM416.74 1505.03h1.25v1.25h-1.25zM421.93 1496.16h1.25v1.25h-1.25zM424.03 1505.69h1.25v1.25h-1.25zM418.98 1503.33h1.25v1.25h-1.25zM404.14 1502.51h1.25v1.25h-1.25zM406.28 1491.71h1.25v1.25h-1.25zM412.05 1500.97h1.25v1.25h-1.25zM414.55 1497.7h1.25v1.25h-1.25zM406.55 1501.3h1.25v1.25h-1.25zM408.74 1490.2h1.25v1.25h-1.25zM415.79 1510.12h1.25v1.25h-1.25zM411.58 1492.61h1.25v1.25h-1.25zM426.7 1511.92h1.25v1.25h-1.25zM412.51 1498.53h1.25v1.25h-1.25zM416.79 1520.55h1.25v1.25h-1.25zM416.13 1506.92h1.25v1.25h-1.25zM418.75 1487.33h1.25v1.25h-1.25zM405.68 1491.41h1.25v1.25h-1.25zM418.66 1500.74h1.25v1.25h-1.25zM430.14 1498.12h1.25v1.25h-1.25zM417.61 1500.52h1.25v1.25h-1.25zM416.18 1516.14h1.25v1.25h-1.25zM417.41 1510.26h1.25v1.25h-1.25zM425.99 1495.77h1.25v1.25h-1.25zM420.8 1497.34h1.25v1.25h-1.25zM415.93 1501.1h1.25v1.25h-1.25zM415.18 1496.73h1.25v1.25h-1.25zM428.18 1498.15h1.25v1.25h-1.25zM420.95 1511.71h1.25v1.25h-1.25zM420.3 1507.16h1.25v1.25h-1.25zM426.77 1507.59h1.25v1.25h-1.25zM429.56 1490.04h1.25v1.25h-1.25zM431.6 1500.19h1.25v1.25h-1.25zM400.19 1495.53h1.25v1.25h-1.25zM403.18 1499.85h1.25v1.25h-1.25zM402.37 1492.97h1.25v1.25h-1.25zM417.51 1501.1h1.25v1.25h-1.25zM408.24 1498.36h1.25v1.25h-1.25zM414.16 1500.52h1.25v1.25h-1.25zM414.94 1498.46h1.25v1.25h-1.25zM422.45 1488.78h1.25v1.25h-1.25zM410.81 1500.93h1.25v1.25h-1.25zM411.6 1496.14h1.25v1.25h-1.25zM411.29 1501.46h1.25v1.25h-1.25zM425.57 1498.7h1.25v1.25h-1.25zM412.73 1502.49h1.25v1.25h-1.25zM412.94 1486.48h1.25v1.25h-1.25zM417.28 1497.36h1.25v1.25h-1.25zM410.14 1504.39h1.25v1.25h-1.25zM415.37 1496.05h1.25v1.25h-1.25zM396.51 1487.97h1.25v1.25h-1.25zM415.12 1499.18h1.25v1.25h-1.25zM418.72 1501.56h1.25v1.25h-1.25zM410.94 1491.15h1.25v1.25h-1.25zM405.7 1499.03h1.25v1.25h-1.25zM405.24 1505.29h1.25v1.25h-1.25zM403.73 1487.47h1.25v1.25h-1.25zM413.35 1487.58h1.25v1.25h-1.25zM428.83 1493.06h1.25v1.25h-1.25zM414.56 1498.29h1.25v1.25h-1.25zM408.03 1487.63h1.25v1.25h-1.25zM399.18 1506.05h1.25v1.25h-1.25zM423.68 1515.14h1.25v1.25h-1.25zM402.57 1503.92h1.25v1.25h-1.25zM414.88 1505.92h1.25v1.25h-1.25zM410.63 1505.05h1.25v1.25h-1.25zM422.61 1504.24h1.25v1.25h-1.25zM427.29 1498.78h1.25v1.25h-1.25zM428.12 1495.1h1.25v1.25h-1.25zM429.17 1480.77h1.25v1.25h-1.25zM415.12 1494.4h1.25v1.25h-1.25zM415.01 1507.22h1.25v1.25h-1.25zM421.1 1500.66h1.25v1.25h-1.25zM429.46 1489.67h1.25v1.25h-1.25zM408.08 1510.57h1.25v1.25h-1.25zM417.79 1485.48h1.25v1.25h-1.25zM417.9 1491.71h1.25v1.25h-1.25zM427.56 1508.01h1.25v1.25h-1.25zM410.35 1509.05h1.25v1.25h-1.25zM407.92 1506.44h1.25v1.25h-1.25zM419.92 1499.11h1.25v1.25h-1.25zM402.92 1498.04h1.25v1.25h-1.25zM395.54 1496.06h1.25v1.25h-1.25zM399.27 1508.51h1.25v1.25h-1.25zM406.78 1482.98h1.25v1.25h-1.25zM419.97 1502.58h1.25v1.25h-1.25zM410.69 1514.82h1.25v1.25h-1.25zM421.57 1500.46h1.25v1.25h-1.25zM419.08 1506.72h1.25v1.25h-1.25zM409.97 1490.11h1.25v1.25h-1.25zM414.64 1488.29h1.25v1.25h-1.25zM415.06 1505.4h1.25v1.25h-1.25zM427.83 1501.86h1.25v1.25h-1.25zM416.67 1505.25h1.25v1.25h-1.25zM426.9 1497.77h1.25v1.25h-1.25zM404.56 1494.46h1.25v1.25h-1.25zM404.3 1493.78h1.25v1.25h-1.25zM413.97 1502.4h1.25v1.25h-1.25zM416.33 1500.49h1.25v1.25h-1.25zM411.96 1502.96h1.25v1.25h-1.25zM422.53 1505.32h1.25v1.25h-1.25zM427.73 1497.97h1.25v1.25h-1.25zM412.86 1511.86h1.25v1.25h-1.25zM416.71 1502.89h1.25v1.25h-1.25zM412.14 1506.78h1.25v1.25h-1.25zM411.58 1492.95h1.25v1.25h-1.25zM414.48 1496.9h1.25v1.25h-1.25zM422.09 1497.36h1.25v1.25h-1.25zM416.05 1498.48h1.25v1.25h-1.25zM417.89 1495.59h1.25v1.25h-1.25zM424.39 1490.03h1.25v1.25h-1.25zM411.72 1495.04h1.25v1.25h-1.25zM420.51 1500.28h1.25v1.25h-1.25zM419.12 1497.69h1.25v1.25h-1.25zM408.9 1492.16h1.25v1.25h-1.25zM412.16 1496.25h1.25v1.25h-1.25zM417.38 1502.48h1.25v1.25h-1.25zM423.3 1499.25h1.25v1.25h-1.25zM408.64 1492.57h1.25v1.25h-1.25zM415.52 1502.53h1.25v1.25h-1.25zM431.56 1501.27h1.25v1.25h-1.25zM429.94 1513.11h1.25v1.25h-1.25zM406.09 1508.47h1.25v1.25h-1.25zM424.66 1509.42h1.25v1.25h-1.25zM414.92 1506.69h1.25v1.25h-1.25zM410.91 1499.51h1.25v1.25h-1.25zM415.16 1512.48h1.25v1.25h-1.25zM413.17 1506.69h1.25v1.25h-1.25zM415.56 1495.04h1.25v1.25h-1.25zM417.06 1504.62h1.25v1.25h-1.25zM408.95 1504.44h1.25v1.25h-1.25zM408.94 1493.86h1.25v1.25h-1.25zM416.87 1498.35h1.25v1.25h-1.25zM406.65 1488.59h1.25v1.25h-1.25zM415.2 1501.7h1.25v1.25h-1.25zM411.09 1501.31h1.25v1.25h-1.25zM402.02 1502.75h1.25v1.25h-1.25zM418.54 1501.95h1.25v1.25h-1.25zM409.79 1500.56h1.25v1.25h-1.25zM416.11 1507.49h1.25v1.25h-1.25zM417.35 1501.78h1.25v1.25h-1.25zM408.85 1506.03h1.25v1.25h-1.25zM424.97 1496.55h1.25v1.25h-1.25zM420.43 1502.16h1.25v1.25h-1.25zM414.6 1491h1.25v1.25h-1.25zM429.93 1486.94h1.25v1.25h-1.25zM417.57 1497.37h1.25v1.25h-1.25zM424.73 1497.04h1.25v1.25h-1.25zM415.34 1504.27h1.25v1.25h-1.25zM418.87 1496.36h1.25v1.25h-1.25zM420.79 1502.74h1.25v1.25h-1.25zM423.39 1496.43h1.25v1.25h-1.25zM414.61 1497.27h1.25v1.25h-1.25zM407.89 1501.78h1.25v1.25h-1.25zM418.47 1509.92h1.25v1.25h-1.25zM412.24 1502.71h1.25v1.25h-1.25zM424.7 1499.2h1.25v1.25h-1.25zM415.54 1500.94h1.25v1.25h-1.25zM409.15 1493.1h1.25v1.25h-1.25zM424.47 1501.21h1.25v1.25h-1.25zM414.37 1491.33h1.25v1.25h-1.25zM416 1508.19h1.25v1.25h-1.25zM405.25 1493.78h1.25v1.25h-1.25zM424.4 1509.98h1.25v1.25h-1.25zM428.15 1496.15h1.25v1.25h-1.25zM420.08 1494.76h1.25v1.25h-1.25zM419.41 1497.46h1.25v1.25h-1.25zM416.66 1509.35h1.25v1.25h-1.25zM417.86 1498.32h1.25v1.25h-1.25zM415.47 1501.85h1.25v1.25h-1.25zM410.66 1501.44h1.25v1.25h-1.25zM420.08 1510.86h1.25v1.25h-1.25zM397.57 1491.71h1.25v1.25h-1.25zM404.54 1506.1h1.25v1.25h-1.25zM435.63 1501.35h1.25v1.25h-1.25zM416.03 1507.93h1.25v1.25h-1.25zM394.37 1498.75h1.25v1.25h-1.25zM410.7 1496.63h1.25v1.25h-1.25zM417.87 1495.94h1.25v1.25h-1.25zM424.39 1499.98h1.25v1.25h-1.25zM418.22 1517.65h1.25v1.25h-1.25zM411.21 1506.44h1.25v1.25h-1.25zM408.02 1508.67h1.25v1.25h-1.25zM423.14 1500.97h1.25v1.25h-1.25zM423.37 1511.18h1.25v1.25h-1.25zM426.63 1500.01h1.25v1.25h-1.25zM414.54 1507.69h1.25v1.25h-1.25zM402.59 1495.82h1.25v1.25h-1.25zM419.09 1503.95h1.25v1.25h-1.25zM430.69 1512.21h1.25v1.25h-1.25z" fill="#3560ac" fill-opacity="0.85"/>
<path d="M390.44 1478.91h1.1v1.1h-1.1zM416.55 1507.79h1.1v1.1h-1.1zM442.06 1473.7h1.1v1.1h-1.1zM396.4 1480.89h1.1v1.1h-1.1zM420.99 1499.41h1.1v1.1h-1.1zM408.63 1527.74h1.1v1.1h-1.1zM426.32 1525.91h1.1v1.1h-1.1zM446.99 1487.48h1.1v1.1h-1.1zM445.94 1496.5h1.1v1.1h-1.1zM383.61 1529.46h1.1v1.1h-1.1zM387.29 1471.14h1.1v1.1h-1.1zM400.27 1488.78h1.1v1.1h-1.1zM447.68 1526.58h1.1v1.1h-1.1zM409.41 1504.41h1.1v1.1h-1.1zM439.42 1522.46h1.1v1.1h-1.1zM425.74 1503.33h1.1v1.1h-1.1zM388.16 1485.84h1.1v1.1h-1.1zM426.07 1508.11h1.1v1.1h-1.1zM436.07 1528.42h1.1v1.1h-1.1zM447.37 1482.52h1.1v1.1h-1.1zM385.32 1528.34h1.1v1.1h-1.1zM419.92 1481.8h1.1v1.1h-1.1zM428.45 1486.62h1.1v1.1h-1.1zM396.56 1493.81h1.1v1.1h-1.1zM416.67 1514.03h1.1v1.1h-1.1zM385.14 1518.18h1.1v1.1h-1.1zM423.7 1500.66h1.1v1.1h-1.1zM427.05 1521.97h1.1v1.1h-1.1zM380.67 1500.9h1.1v1.1h-1.1zM427.46 1516.09h1.1v1.1h-1.1z" fill="#4a70b5" fill-opacity="0.5"/>
<path d="M433.8 1402.4V1582.2" stroke="#1a1a1a" stroke-width="1.6" fill="none"/>
<path d="M375.6 1522.6H508.3V1582.2" stroke="#1a1a1a" stroke-width="1.6" fill="none"/>
<text transform="translate(175.9 1541.4) rotate(-90)" text-anchor="middle" stroke="#1a1718">CD3</text>
<text x="188.5" y="1623.2" stroke="#1a1718">B220</text>
<text x="-2.8" y="1705" font-size="68" stroke="#1a1718" font-weight="bold">i</text>
<rect x="141.5" y="2055.3" width="57.1" height="399.5" fill="#3659a7" stroke="#000" stroke-width="3.2"/>
<rect x="213.2" y="2448.1" width="59.8" height="6.7" fill="#e7222f" stroke="#000" stroke-width="3.2"/>
<line x1="216" y1="2448.6" x2="270" y2="2448.6" stroke="#c02030" stroke-width="1.6"/>
<rect x="288.1" y="2445.4" width="59" height="9.4" fill="#5db55e" stroke="#000" stroke-width="3.2"/>
<rect x="397.6" y="2157" width="56.7" height="297.8" fill="#3659a7" stroke="#000" stroke-width="3.2"/>
<rect x="469.7" y="2452.1" width="62.6" height="2.7" fill="#e7222f" stroke="#000" stroke-width="3.2"/>
<rect x="545.4" y="2413.1" width="57.8" height="41.7" fill="#5db55e" stroke="#000" stroke-width="3.2"/>
<line x1="170.2" y1="2001.7" x2="170.2" y2="2054" stroke="#000" stroke-width="2.5"/>
<line x1="154" y1="2001.7" x2="186.4" y2="2001.7" stroke="#000" stroke-width="2.5"/>
<line x1="243.5" y1="2432" x2="243.5" y2="2447" stroke="#000" stroke-width="2.5"/>
<line x1="229" y1="2432" x2="258" y2="2432" stroke="#000" stroke-width="2.5"/>
<line x1="318.4" y1="2434" x2="318.4" y2="2444" stroke="#000" stroke-width="2.5"/>
<line x1="301.9" y1="2434" x2="334.9" y2="2434" stroke="#000" stroke-width="2.5"/>
<line x1="425.5" y1="2108.9" x2="425.5" y2="2156" stroke="#000" stroke-width="2.5"/>
<line x1="409.5" y1="2108.9" x2="441.5" y2="2108.9" stroke="#000" stroke-width="2.5"/>
<line x1="575.3" y1="2388.6" x2="575.3" y2="2412" stroke="#000" stroke-width="2.5"/>
<line x1="559.8" y1="2388.6" x2="590.8" y2="2388.6" stroke="#000" stroke-width="2.5"/>
<path d="M164.9 1979.7a5.3 5.3 0 1 0 10.6 0a5.3 5.3 0 1 0 -10.6 0zM176 1993.8a5.3 5.3 0 1 0 10.6 0a5.3 5.3 0 1 0 -10.6 0zM155.5 2001.7a5.3 5.3 0 1 0 10.6 0a5.3 5.3 0 1 0 -10.6 0zM164.9 2017.1a5.3 5.3 0 1 0 10.6 0a5.3 5.3 0 1 0 -10.6 0zM164.9 2037.2a5.3 5.3 0 1 0 10.6 0a5.3 5.3 0 1 0 -10.6 0zM164.9 2066.7a5.3 5.3 0 1 0 10.6 0a5.3 5.3 0 1 0 -10.6 0zM164.9 2375.6a5.3 5.3 0 1 0 10.6 0a5.3 5.3 0 1 0 -10.6 0z" fill="#000"/>
<path d="M239.05 2372.75h10.5v10.5h-10.5zM239.05 2426.75h10.5v10.5h-10.5z" fill="#000"/>
<path d="M210.25 2448.25h10.5v10.5h-10.5zM224.25 2448.25h10.5v10.5h-10.5zM238.25 2448.25h10.5v10.5h-10.5zM252.25 2448.25h10.5v10.5h-10.5zM266.25 2448.25h10.5v10.5h-10.5z" fill="#000"/>
<path d="M303.4 2402.24l5.4 10.26h-10.8zM318.4 2412.04l5.4 10.26h-10.8zM303.4 2441.54l5.4 10.26h-10.8zM318.4 2437.64l5.4 10.26h-10.8zM333 2445.54l5.4 10.26h-10.8zM290.4 2449.44l5.4 10.26h-10.8zM347.5 2450.24l5.4 10.26h-10.8z" fill="#000"/>
<path d="M411.2 2010.4a5.3 5.3 0 1 0 10.6 0a5.3 5.3 0 1 0 -10.6 0zM430.9 2007.2a5.3 5.3 0 1 0 10.6 0a5.3 5.3 0 1 0 -10.6 0zM421 2073.4a5.3 5.3 0 1 0 10.6 0a5.3 5.3 0 1 0 -10.6 0zM421 2086.4a5.3 5.3 0 1 0 10.6 0a5.3 5.3 0 1 0 -10.6 0zM421 2224a5.3 5.3 0 1 0 10.6 0a5.3 5.3 0 1 0 -10.6 0zM411.2 2253.9a5.3 5.3 0 1 0 10.6 0a5.3 5.3 0 1 0 -10.6 0zM430.9 2260.6a5.3 5.3 0 1 0 10.6 0a5.3 5.3 0 1 0 -10.6 0zM421 2317.7a5.3 5.3 0 1 0 10.6 0a5.3 5.3 0 1 0 -10.6 0z" fill="#000"/>
<path d="M467.75 2448.25h10.5v10.5h-10.5zM478.95 2448.25h10.5v10.5h-10.5zM490.15 2448.25h10.5v10.5h-10.5zM501.35 2448.25h10.5v10.5h-10.5zM512.55 2448.25h10.5v10.5h-10.5zM523.75 2448.25h10.5v10.5h-10.5z" fill="#000"/>
<path d="M575.3 2278.04l5.4 10.26h-10.8zM575.3 2381.74l5.4 10.26h-10.8zM554.8 2402.24l5.4 10.26h-10.8zM575.3 2408.14l5.4 10.26h-10.8zM554.8 2433.74l5.4 10.26h-10.8zM575.3 2433.74l5.4 10.26h-10.8zM554.8 2445.54l5.4 10.26h-10.8zM595 2445.54l5.4 10.26h-10.8z" fill="#000"/>
<path d="M169.4 1866.6V1730.6H318.4V1760.2" stroke="#000" stroke-width="3.2" fill="none"/>
<path d="M424.8 1760.2V1730.6H573.3V1866.6" stroke="#000" stroke-width="3.2" fill="none"/>
<path d="M243.1 1866.6V1837H318.4V2400.5" stroke="#000" stroke-width="3.2" fill="none"/>
<path d="M424.8 1988.7V1837H500.4V1866.6" stroke="#000" stroke-width="3.2" fill="none"/>
<path d="M169.4 1958.4V1943.4H243.5V2349.2" stroke="#000" stroke-width="3.2" fill="none"/>
<path d="M499.6 2424.1V1943.4H573.3V2252.7" stroke="#000" stroke-width="3.2" fill="none"/>
<line x1="122.9" y1="1953.2" x2="122.9" y2="2457.6" stroke="#000" stroke-width="3.3"/>
<line x1="100.5" y1="2454.8" x2="122.9" y2="2454.8" stroke="#000" stroke-width="3.3"/>
<text x="93" y="2469.7" text-anchor="end" stroke="#1a1718">0</text>
<line x1="100.5" y1="2288.7" x2="122.9" y2="2288.7" stroke="#000" stroke-width="3.3"/>
<text x="93" y="2303.6" text-anchor="end" stroke="#1a1718">10</text>
<line x1="100.5" y1="2122.6" x2="122.9" y2="2122.6" stroke="#000" stroke-width="3.3"/>
<text x="93" y="2137.5" text-anchor="end" stroke="#1a1718">20</text>
<line x1="100.5" y1="1956.5" x2="122.9" y2="1956.5" stroke="#000" stroke-width="3.3"/>
<text x="93" y="1971.4" text-anchor="end" stroke="#1a1718">30</text>
<line x1="100.5" y1="2454.8" x2="622.6" y2="2454.8" stroke="#000" stroke-width="3.3"/>
<line x1="243.2" y1="2454.8" x2="243.2" y2="2477.3" stroke="#000" stroke-width="3.3"/>
<text x="246.7" y="2516.4" text-anchor="middle" stroke="#1a1718">4 weeks</text>
<line x1="498.5" y1="2454.8" x2="498.5" y2="2477.3" stroke="#000" stroke-width="3.3"/>
<text x="502" y="2516.4" text-anchor="middle" stroke="#1a1718">16 weeks</text>
<text x="240.4" y="1703.8" text-anchor="middle" stroke="#1a1718">p=0.0004</text>
<text x="493.2" y="1703.8" text-anchor="middle" stroke="#1a1718">p=0.005</text>
<text x="284.7" y="1825.2" text-anchor="middle" stroke="#1a1718">n.s.</text>
<text x="454.3" y="1810.2" text-anchor="middle" stroke="#1a1718">p=0.0007</text>
<text x="201" y="1913.9" text-anchor="middle" stroke="#1a1718">p=0.0006</text>
<text x="543.8" y="1915.8" text-anchor="middle" stroke="#1a1718">p=0.0478</text>
<text transform="translate(30.7 2183.45) rotate(-90)" text-anchor="middle" stroke="#1a1718" textLength="654.7" lengthAdjust="spacing" xml:space="preserve">Chimerism among Myeloid cells (%)</text>
<text x="667" y="1705" font-size="68" stroke="#1a1718" font-weight="bold">j</text>
<rect x="815.1" y="2277" width="57.7" height="177" fill="#3659a7" stroke="#000" stroke-width="3.2"/>
<rect x="888.9" y="2451.6" width="61.8" height="2.4" fill="#e7222f" stroke="#000" stroke-width="3.2"/>
<rect x="964.1" y="2137.7" width="56.8" height="316.3" fill="#5db55e" stroke="#000" stroke-width="3.2"/>
<rect x="1071.6" y="2111.3" width="56.9" height="342.7" fill="#3659a7" stroke="#000" stroke-width="3.2"/>
<rect x="1144.7" y="2451.6" width="63.8" height="2.4" fill="#e7222f" stroke="#000" stroke-width="3.2"/>
<rect x="1219.8" y="2408.9" width="57.7" height="45.1" fill="#5db55e" stroke="#000" stroke-width="3.2"/>
<line x1="844.7" y1="2238.8" x2="844.7" y2="2276" stroke="#000" stroke-width="2.5"/>
<line x1="828.3" y1="2238.8" x2="861.1" y2="2238.8" stroke="#000" stroke-width="2.5"/>
<line x1="992.9" y1="2063" x2="992.9" y2="2137" stroke="#000" stroke-width="2.5"/>
<line x1="976.7" y1="2063" x2="1009.1" y2="2063" stroke="#000" stroke-width="2.5"/>
<line x1="1100.5" y1="2053.3" x2="1100.5" y2="2110" stroke="#000" stroke-width="2.5"/>
<line x1="1084.3" y1="2053.3" x2="1116.7" y2="2053.3" stroke="#000" stroke-width="2.5"/>
<line x1="1250.7" y1="2397.2" x2="1250.7" y2="2408" stroke="#000" stroke-width="2.5"/>
<line x1="1234.2" y1="2397.2" x2="1267.2" y2="2397.2" stroke="#000" stroke-width="2.5"/>
<path d="M830.5 2193.3a5.3 5.3 0 1 0 10.6 0a5.3 5.3 0 1 0 -10.6 0zM850.8 2190.9a5.3 5.3 0 1 0 10.6 0a5.3 5.3 0 1 0 -10.6 0zM850.8 2232.7a5.3 5.3 0 1 0 10.6 0a5.3 5.3 0 1 0 -10.6 0zM830.5 2240a5.3 5.3 0 1 0 10.6 0a5.3 5.3 0 1 0 -10.6 0zM840.2 2262.4a5.3 5.3 0 1 0 10.6 0a5.3 5.3 0 1 0 -10.6 0zM840.2 2282.2a5.3 5.3 0 1 0 10.6 0a5.3 5.3 0 1 0 -10.6 0zM840.2 2358.6a5.3 5.3 0 1 0 10.6 0a5.3 5.3 0 1 0 -10.6 0zM840.2 2452a5.3 5.3 0 1 0 10.6 0a5.3 5.3 0 1 0 -10.6 0z" fill="#000"/>
<path d="M973.8 2005.34l5.4 10.26h-10.8zM994.9 1999.24l5.4 10.26h-10.8zM1014.4 2005.34l5.4 10.26h-10.8zM994.9 2039.84l5.4 10.26h-10.8zM994.9 2301.64l5.4 10.26h-10.8zM994.9 2380.84l5.4 10.26h-10.8zM994.9 2405.14l5.4 10.26h-10.8z" fill="#000"/>
<path d="M1096.4 1976.1a5.3 5.3 0 1 0 10.6 0a5.3 5.3 0 1 0 -10.6 0zM1096.4 2056.1a5.3 5.3 0 1 0 10.6 0a5.3 5.3 0 1 0 -10.6 0zM1096.4 2180a5.3 5.3 0 1 0 10.6 0a5.3 5.3 0 1 0 -10.6 0zM1096.4 2221.8a5.3 5.3 0 1 0 10.6 0a5.3 5.3 0 1 0 -10.6 0zM1096.4 2265.2a5.3 5.3 0 1 0 10.6 0a5.3 5.3 0 1 0 -10.6 0zM1096.4 2305a5.3 5.3 0 1 0 10.6 0a5.3 5.3 0 1 0 -10.6 0z" fill="#000"/>
<path d="M1231.2 2380.84l5.4 10.26h-10.8zM1250.7 2374.74l5.4 10.26h-10.8zM1271 2378.84l5.4 10.26h-10.8zM1250.7 2393.04l5.4 10.26h-10.8zM1250.7 2405.14l5.4 10.26h-10.8zM1250.7 2413.34l5.4 10.26h-10.8zM1231.2 2421.44l5.4 10.26h-10.8zM1271 2419.44l5.4 10.26h-10.8z" fill="#000"/>
<path d="M914.55 2432.55h10.5v10.5h-10.5z" fill="#000"/>
<path d="M886.75 2447.25h10.5v10.5h-10.5zM897.95 2447.25h10.5v10.5h-10.5zM909.15 2447.25h10.5v10.5h-10.5zM920.35 2447.25h10.5v10.5h-10.5zM931.55 2447.25h10.5v10.5h-10.5zM942.75 2447.25h10.5v10.5h-10.5z" fill="#000"/>
<path d="M1171.15 2427.65h10.5v10.5h-10.5zM1152.05 2442.65h10.5v10.5h-10.5z" fill="#000"/>
<path d="M1142.75 2447.25h10.5v10.5h-10.5zM1154.15 2447.25h10.5v10.5h-10.5zM1165.55 2447.25h10.5v10.5h-10.5zM1176.95 2447.25h10.5v10.5h-10.5zM1188.35 2447.25h10.5v10.5h-10.5zM1199.75 2447.25h10.5v10.5h-10.5z" fill="#000"/>
<path d="M843.9 1918.1V1782.1H992.1V1812.5" stroke="#000" stroke-width="3.2" fill="none"/>
<path d="M1099.3 1812.5V1782.1H1247.4V1918.1" stroke="#000" stroke-width="3.2" fill="none"/>
<path d="M917.8 1918.1V1888.5H992.1V1983" stroke="#000" stroke-width="3.2" fill="none"/>
<path d="M1099.3 1958.7V1888.5H1173.6V1918.1" stroke="#000" stroke-width="3.2" fill="none"/>
<path d="M843.9 2210.4V1994H917.8V2423.5" stroke="#000" stroke-width="3.2" fill="none"/>
<path d="M1173.6 2421.5V1994H1247.4V2344.4" stroke="#000" stroke-width="3.2" fill="none"/>
<line x1="797.2" y1="1953.4" x2="797.2" y2="2457" stroke="#000" stroke-width="3.3"/>
<line x1="774.9" y1="2454" x2="797.2" y2="2454" stroke="#000" stroke-width="3.3"/>
<text x="768" y="2468.9" text-anchor="end" stroke="#1a1718">0</text>
<line x1="774.9" y1="2287.5" x2="797.2" y2="2287.5" stroke="#000" stroke-width="3.3"/>
<text x="768" y="2302.4" text-anchor="end" stroke="#1a1718">5</text>
<line x1="774.9" y1="2121" x2="797.2" y2="2121" stroke="#000" stroke-width="3.3"/>
<text x="768" y="2135.9" text-anchor="end" stroke="#1a1718">10</text>
<line x1="774.9" y1="1954.5" x2="797.2" y2="1954.5" stroke="#000" stroke-width="3.3"/>
<text x="768" y="1969.4" text-anchor="end" stroke="#1a1718">15</text>
<line x1="774.9" y1="2454" x2="1298.2" y2="2454" stroke="#000" stroke-width="3.3"/>
<line x1="917.5" y1="2454" x2="917.5" y2="2476.5" stroke="#000" stroke-width="3.3"/>
<text x="921" y="2516.4" text-anchor="middle" stroke="#1a1718">4 weeks</text>
<line x1="1172.7" y1="2454" x2="1172.7" y2="2476.5" stroke="#000" stroke-width="3.3"/>
<text x="1176.2" y="2516.4" text-anchor="middle" stroke="#1a1718">16 weeks</text>
<text x="925.5" y="1773.2" text-anchor="middle" stroke="#1a1718">n.s.</text>
<text x="1171.5" y="1756.9" text-anchor="middle" stroke="#1a1718">p=0.0035</text>
<text x="937.1" y="1863.3" text-anchor="middle" stroke="#1a1718">p=0.0069</text>
<text x="1127.7" y="1861.3" text-anchor="middle" stroke="#1a1718">p=0.0008</text>
<text x="897.5" y="1968" text-anchor="middle" stroke="#1a1718">p=0.0025</text>
<text x="1204.6" y="1966.8" text-anchor="middle" stroke="#1a1718">p=0.0004</text>
<text transform="translate(703.6 2196.95) rotate(-90)" text-anchor="middle" stroke="#1a1718" textLength="543.5" lengthAdjust="spacing" xml:space="preserve">Chimerism among B cells (%)</text>
<text x="1344" y="1706" font-size="68" stroke="#1a1718" font-weight="bold">k</text>
<rect x="1486.5" y="2430.5" width="58.7" height="23.5" fill="#3659a7" stroke="#000" stroke-width="3.2"/>
<rect x="1559.7" y="2451.6" width="63.7" height="2.4" fill="#e7222f" stroke="#000" stroke-width="3.2"/>
<rect x="1636.3" y="2093.6" width="57" height="360.4" fill="#5db55e" stroke="#000" stroke-width="3.2"/>
<rect x="1743" y="2335.5" width="58.3" height="118.5" fill="#3659a7" stroke="#000" stroke-width="3.2"/>
<rect x="1816.2" y="2451.6" width="63.8" height="2.4" fill="#e7222f" stroke="#000" stroke-width="3.2"/>
<rect x="1892.4" y="2363.5" width="56.7" height="90.5" fill="#5db55e" stroke="#000" stroke-width="3.2"/>
<line x1="1517.1" y1="2418.4" x2="1517.1" y2="2429" stroke="#000" stroke-width="2.5"/>
<line x1="1498.1" y1="2418.4" x2="1536.1" y2="2418.4" stroke="#000" stroke-width="2.5"/>
<line x1="1664.8" y1="2039.7" x2="1664.8" y2="2093" stroke="#000" stroke-width="2.5"/>
<line x1="1647.8" y1="2039.7" x2="1681.8" y2="2039.7" stroke="#000" stroke-width="2.5"/>
<line x1="1771.5" y1="2292" x2="1771.5" y2="2334" stroke="#000" stroke-width="2.5"/>
<line x1="1754.7" y1="2292" x2="1788.3" y2="2292" stroke="#000" stroke-width="2.5"/>
<line x1="1920.9" y1="2347.3" x2="1920.9" y2="2362" stroke="#000" stroke-width="2.5"/>
<line x1="1904.2" y1="2347.3" x2="1937.6" y2="2347.3" stroke="#000" stroke-width="2.5"/>
<path d="M1511.8 2399.6a5.3 5.3 0 1 0 10.6 0a5.3 5.3 0 1 0 -10.6 0zM1492.1 2412.2a5.3 5.3 0 1 0 10.6 0a5.3 5.3 0 1 0 -10.6 0zM1511.8 2416.3a5.3 5.3 0 1 0 10.6 0a5.3 5.3 0 1 0 -10.6 0zM1531 2412.2a5.3 5.3 0 1 0 10.6 0a5.3 5.3 0 1 0 -10.6 0zM1492.1 2423.5a5.3 5.3 0 1 0 10.6 0a5.3 5.3 0 1 0 -10.6 0zM1531 2423.5a5.3 5.3 0 1 0 10.6 0a5.3 5.3 0 1 0 -10.6 0zM1502.6 2454a5.3 5.3 0 1 0 10.6 0a5.3 5.3 0 1 0 -10.6 0zM1522.2 2454a5.3 5.3 0 1 0 10.6 0a5.3 5.3 0 1 0 -10.6 0z" fill="#000"/>
<path d="M1666.1 1991.64l5.4 10.26h-10.8zM1666.1 2041.84l5.4 10.26h-10.8zM1666.1 2151.94l5.4 10.26h-10.8zM1666.1 2166.14l5.4 10.26h-10.8zM1666.1 2247.84l5.4 10.26h-10.8zM1666.1 2275.04l5.4 10.26h-10.8z" fill="#000"/>
<path d="M1768.3 2200.8a5.3 5.3 0 1 0 10.6 0a5.3 5.3 0 1 0 -10.6 0zM1768.3 2218.8a5.3 5.3 0 1 0 10.6 0a5.3 5.3 0 1 0 -10.6 0zM1768.3 2235.1a5.3 5.3 0 1 0 10.6 0a5.3 5.3 0 1 0 -10.6 0zM1768.3 2280.3a5.3 5.3 0 1 0 10.6 0a5.3 5.3 0 1 0 -10.6 0zM1768.3 2414.2a5.3 5.3 0 1 0 10.6 0a5.3 5.3 0 1 0 -10.6 0zM1768.3 2433.1a5.3 5.3 0 1 0 10.6 0a5.3 5.3 0 1 0 -10.6 0zM1748.2 2440.2a5.3 5.3 0 1 0 10.6 0a5.3 5.3 0 1 0 -10.6 0zM1788.4 2440.2a5.3 5.3 0 1 0 10.6 0a5.3 5.3 0 1 0 -10.6 0z" fill="#000"/>
<path d="M1922.2 2318.14l5.4 10.26h-10.8zM1943.1 2311.04l5.4 10.26h-10.8zM1943.1 2343.24l5.4 10.26h-10.8zM1902.1 2353.64l5.4 10.26h-10.8zM1922.2 2351.64l5.4 10.26h-10.8zM1943.1 2362.04l5.4 10.26h-10.8zM1922.2 2382.94l5.4 10.26h-10.8zM1922.2 2410.24l5.4 10.26h-10.8z" fill="#000"/>
<path d="M1557.75 2447.25h10.5v10.5h-10.5zM1569.15 2447.25h10.5v10.5h-10.5zM1580.55 2447.25h10.5v10.5h-10.5zM1591.95 2447.25h10.5v10.5h-10.5zM1603.35 2447.25h10.5v10.5h-10.5zM1614.75 2447.25h10.5v10.5h-10.5z" fill="#000"/>
<path d="M1813.75 2447.25h10.5v10.5h-10.5zM1825.15 2447.25h10.5v10.5h-10.5zM1836.55 2447.25h10.5v10.5h-10.5zM1847.95 2447.25h10.5v10.5h-10.5zM1859.35 2447.25h10.5v10.5h-10.5zM1870.75 2447.25h10.5v10.5h-10.5z" fill="#000"/>
<path d="M1515.4 1904.5V1768.5H1664V1799" stroke="#000" stroke-width="3.2" fill="none"/>
<path d="M1589.5 1904.5V1874.4H1664.8V1911.2" stroke="#000" stroke-width="3.2" fill="none"/>
<path d="M1771.5 1904.5V1874.4H1920.1V1904.5" stroke="#000" stroke-width="3.2" fill="none"/>
<path d="M1516.2 2364V1980.3H1589.5V2426.8" stroke="#000" stroke-width="3.2" fill="none"/>
<path d="M1771.5 2156.9V1980.3H1835.6V2426.8" stroke="#000" stroke-width="3.2" fill="none"/>
<path d="M1856.1 2426.8V1980.3H1920.9V2278.2" stroke="#000" stroke-width="3.2" fill="none"/>
<line x1="1468.1" y1="1953" x2="1468.1" y2="2458.2" stroke="#000" stroke-width="3.3"/>
<line x1="1447.2" y1="2454" x2="1468.1" y2="2454" stroke="#000" stroke-width="3.3"/>
<text x="1439.5" y="2468.9" text-anchor="end" stroke="#1a1718">0</text>
<line x1="1447.2" y1="2329" x2="1468.1" y2="2329" stroke="#000" stroke-width="3.3"/>
<text x="1439.5" y="2343.9" text-anchor="end" stroke="#1a1718">5</text>
<line x1="1447.2" y1="2204" x2="1468.1" y2="2204" stroke="#000" stroke-width="3.3"/>
<text x="1439.5" y="2218.9" text-anchor="end" stroke="#1a1718">10</text>
<line x1="1447.2" y1="2079" x2="1468.1" y2="2079" stroke="#000" stroke-width="3.3"/>
<text x="1439.5" y="2093.9" text-anchor="end" stroke="#1a1718">15</text>
<line x1="1447.2" y1="1954" x2="1468.1" y2="1954" stroke="#000" stroke-width="3.3"/>
<text x="1439.5" y="1968.9" text-anchor="end" stroke="#1a1718">20</text>
<line x1="1447.2" y1="2454" x2="1970.3" y2="2454" stroke="#000" stroke-width="3.3"/>
<line x1="1589.5" y1="2454" x2="1589.5" y2="2476.5" stroke="#000" stroke-width="3.3"/>
<text x="1593" y="2516.4" text-anchor="middle" stroke="#1a1718">4 weeks</text>
<line x1="1845.6" y1="2454" x2="1845.6" y2="2476.5" stroke="#000" stroke-width="3.3"/>
<text x="1849.1" y="2516.4" text-anchor="middle" stroke="#1a1718">16 weeks</text>
<text x="1586.3" y="1741.7" text-anchor="middle" stroke="#1a1718">p=0.001</text>
<text x="1619.9" y="1848" text-anchor="middle" stroke="#1a1718">p=0.0004</text>
<text x="1849" y="1866.8" text-anchor="middle" stroke="#1a1718">n.s.</text>
<text x="1565.5" y="1954.7" text-anchor="middle" stroke="#1a1718">p=0.0107</text>
<text x="1754.8" y="1954.7" text-anchor="middle" stroke="#1a1718">p=0.0394</text>
<text x="1943.8" y="1954.7" text-anchor="middle" stroke="#1a1718">p=0.0004</text>
<text transform="translate(1375.7 2199.45) rotate(-90)" text-anchor="middle" stroke="#1a1718" textLength="540.7" lengthAdjust="spacing" xml:space="preserve">Chimerism among T cells (%)</text>
<rect x="919" y="2549" width="45.6" height="19.3" fill="#3659a7" stroke="#000" stroke-width="3.4"/>
<rect x="919" y="2603.1" width="45.6" height="18.9" fill="#e7222f" stroke="#000" stroke-width="3.4"/>
<rect x="919" y="2657.7" width="45.6" height="19.3" fill="#5db55e" stroke="#000" stroke-width="3.4"/>
<text x="977.5" y="2572.4" stroke="#1a1718">WT</text>
<text stroke="#1a1718" x="977.6" y="2626.7">Fli-1<tspan dy="-19.8" dx="-4" font-size="27" letter-spacing="1.1">ROSAΔ</tspan></text>
<text stroke="#1a1718" x="977.6" y="2681.3">Fli-1<tspan dy="-19.8" dx="-4" font-size="27" letter-spacing="1.1">ROSAΔ</tspan><tspan dy="19.8" dx="-1">N1-IC</tspan><tspan dy="-19.8" font-size="27">iOE</tspan></text>
</g></svg>
</body></html>
